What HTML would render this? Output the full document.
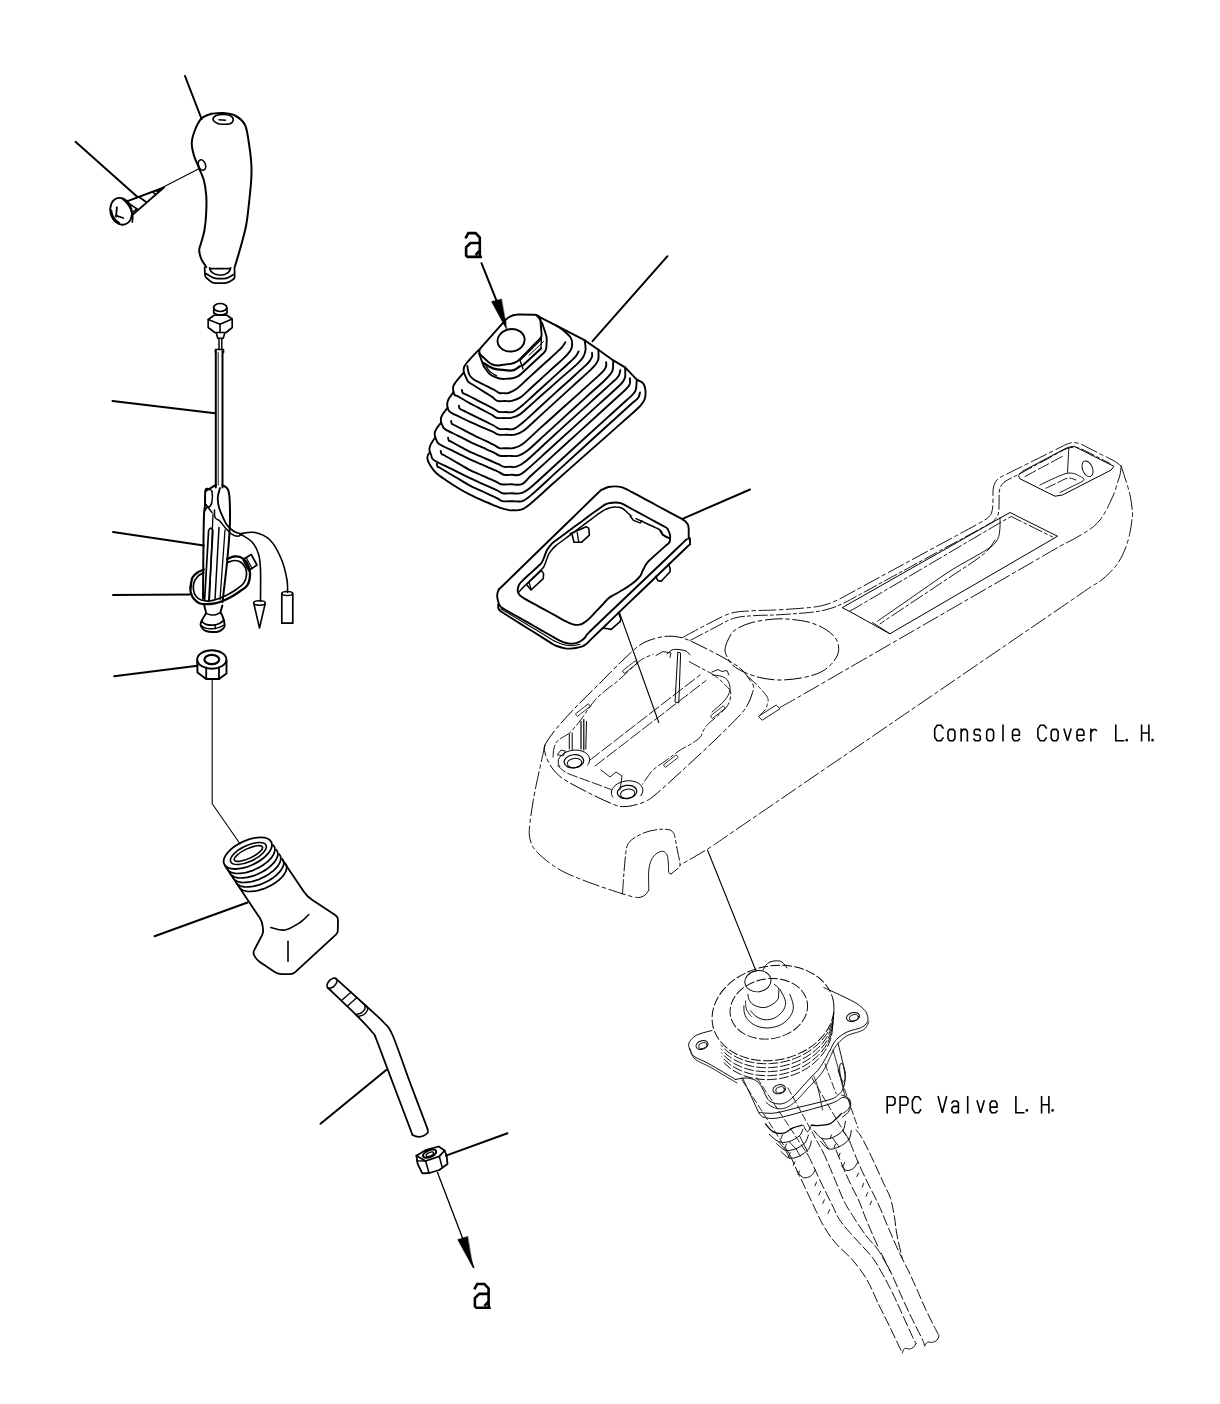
<!DOCTYPE html>
<html><head><meta charset="utf-8"><title>Console Cover L.H. / PPC Valve L.H.</title>
<style>
html,body{margin:0;padding:0;background:#fff;}
body{width:1220px;height:1404px;overflow:hidden;font-family:"Liberation Sans",sans-serif;}
svg{display:block;}
</style></head><body>
<svg width="1220" height="1404" viewBox="0 0 1220 1404">
<rect width="1220" height="1404" fill="#fff"/>
<g stroke="#000" fill="none" stroke-linecap="round" stroke-linejoin="round">
<path d="M185.0,76.0 L201.6,119.0" stroke-width="2.0" fill="none" />
<path d="M75.5,141.8 L137.5,197.0" stroke-width="2.0" fill="none" />
<path d="M112.5,401.0 L215.0,413.3" stroke-width="2.0" fill="none" />
<path d="M113.0,532.0 L203.8,545.5" stroke-width="2.0" fill="none" />
<path d="M113.0,595.0 L190.0,594.5" stroke-width="2.0" fill="none" />
<path d="M114.2,676.2 L197.5,665.8" stroke-width="2.0" fill="none" />
<path d="M154.5,936.2 L247.5,902.5" stroke-width="2.0" fill="none" />
<path d="M320.5,1123.8 L386.2,1070.0" stroke-width="2.0" fill="none" />
<path d="M446.0,1155.6 L507.5,1133.2" stroke-width="2.0" fill="none" />
<path d="M667.5,256.2 L592.5,341.2" stroke-width="2.0" fill="none" />
<path d="M682.5,518.8 L750.0,489.5" stroke-width="2.0" fill="none" />
<path d="M211.2,113.8 C209.6,114.6 204.0,116.0 201.2,118.8 C198.5,121.5 196.6,126.0 195.0,130.0 C193.4,134.0 192.0,138.3 191.8,142.5 C191.5,146.7 192.6,150.8 193.8,155.0 C194.9,159.2 197.1,163.3 198.8,167.5 C200.4,171.7 202.5,175.4 203.8,180.0 C205.0,184.6 205.8,189.6 206.2,195.0 C206.7,200.4 206.5,206.7 206.2,212.5 C206.0,218.3 205.3,225.0 204.5,230.0 C203.7,235.0 202.1,239.2 201.2,242.5 C200.4,245.8 199.2,247.3 199.2,250.0 C199.2,252.7 200.1,255.9 201.2,258.8 C202.4,261.6 205.4,265.6 206.2,267.0" stroke-width="2.0" fill="none" />
<path d="M211.2,113.8 C213.1,113.6 218.5,112.7 222.5,113.0 C226.5,113.3 231.2,113.5 235.0,115.5 C238.8,117.5 242.7,120.5 245.0,125.0 C247.3,129.5 247.7,136.2 248.8,142.5 C249.8,148.8 250.8,156.2 251.2,162.5 C251.7,168.8 251.7,172.9 251.2,180.0 C250.8,187.1 249.6,197.5 248.8,205.0 C247.9,212.5 247.5,218.3 246.2,225.0 C245.0,231.7 243.1,238.1 241.2,245.0 C239.4,251.9 236.0,262.7 235.0,266.2" stroke-width="2.0" fill="none" />
<path d="M213.0,119.2 C212.9,118.0 214.5,116.3 216.2,115.5 C218.0,114.7 221.4,114.5 223.8,114.5 C226.1,114.5 228.9,114.8 230.5,115.8 C232.1,116.7 233.3,118.7 233.2,120.0 C233.2,121.3 231.8,123.0 230.0,123.8 C228.2,124.5 224.7,124.3 222.5,124.2 C220.3,124.2 218.6,124.1 217.0,123.2 C215.4,122.4 213.1,120.5 213.0,119.2 Z" stroke-width="1.6" fill="none" />
<path d="M219.0,119.8 L225.5,120.2" stroke-width="1.4" fill="none" />
<ellipse cx="202.0" cy="165.0" rx="3.4" ry="5.4" stroke-width="1.6" fill="none" transform="rotate(-20 202.0 165.0)"/>
<path d="M204.6,267.4 L205.0,274.7 Q205.1,276.7 206.6,278.0 L210.2,281.2 Q212.4,283.2 215.4,283.2 L224.4,283.2 Q227.4,283.2 229.9,281.6 L233.0,279.6 Q234.7,278.5 234.7,276.5 L234.5,267.4" stroke-width="1.8" fill="none" />
<path d="M205.8,273.6 L211.6,277.1 Q214.2,278.7 217.2,278.7 L223.3,278.7 Q226.3,278.7 228.9,277.2 L233.6,274.6" stroke-width="1.7" fill="none" />
<path d="M209.6,267.8 L210.0,269.6 Q210.5,271.3 212.0,272.3 L213.5,273.4 Q216.0,275.0 219.0,275.0 L222.0,275.0 Q224.9,275.0 227.1,273.2 L228.1,272.5 Q229.5,271.3 230.1,269.6 L230.7,267.8" stroke-width="1.7" fill="none" />
<path d="M210.1,268.6 L230.2,268.6" stroke-width="1.6" fill="none" />
<path d="M198.8,168.8 L162.5,187.5" stroke-width="1.1" fill="none" />
<ellipse cx="121.1" cy="211.3" rx="10.6" ry="13.6" stroke-width="1.8" fill="none" transform="rotate(-16 121.1 211.3)"/>
<path d="M122.6,199.0 C123.3,199.6 125.4,201.3 126.6,202.6 C127.7,203.9 128.7,205.4 129.5,206.9 C130.3,208.4 131.0,209.9 131.5,211.5 C132.0,213.1 132.5,214.6 132.7,216.4 C132.8,218.1 132.3,221.0 132.3,222.0" stroke-width="1.7" fill="none" />
<path d="M111.0,210.8 C111.2,211.6 111.5,213.9 112.1,215.4 C112.8,216.9 113.9,218.7 115.1,220.0 C116.2,221.3 118.4,222.7 119.0,223.3" stroke-width="2.6" fill="none" />
<path d="M126.2,201.6 L163.9,187.5 L132.8,214.6" stroke-width="1.9" fill="none" />
<path d="M155.7,190.6 L163.9,187.5 L159.0,191.8 Z" stroke-width="1.0" fill="#000" />
<path d="M138.7,196.7 L146.2,202.0" stroke-width="1.7" fill="none" />
<path d="M128.3,203.1 L137.0,208.9" stroke-width="1.7" fill="none" />
<path d="M137.0,208.9 L132.8,212.1" stroke-width="1.5" fill="none" />
<path d="M152.8,192.1 L155.4,194.1" stroke-width="1.5" fill="none" />
<path d="M116.9,207.2 L116.1,216.7" stroke-width="1.8" fill="none" />
<path d="M116.1,215.7 L123.3,218.0" stroke-width="1.8" fill="none" />
<ellipse cx="220.2" cy="307.5" rx="6.6" ry="4.0" stroke-width="1.7" fill="none"/>
<path d="M213.8,308.0 L213.8,313.0 Q220.2,317.0 227.0,313.0 L227.0,308.0" stroke-width="1.7" fill="none" />
<path d="M208.2,319.5 L214.2,315.2 L227.0,315.2 L232.2,319.0 L232.2,327.5 L226.2,332.5 L214.8,332.5 L208.2,327.5 Z" stroke-width="1.7" fill="none" />
<path d="M208.2,319.5 L220.0,324.2 L232.2,319.0" stroke-width="1.6" fill="none" />
<path d="M220.0,324.0 L220.0,332.5" stroke-width="1.6" fill="none" />
<path d="M216.2,333.0 L217.8,338.2 L223.2,338.2 L224.8,333.0" stroke-width="1.6" fill="none" />
<path d="M219.0,338.8 L219.0,348.8" stroke-width="1.5" fill="none" />
<path d="M221.8,338.8 L221.8,348.8" stroke-width="1.5" fill="none" />
<path d="M215.5,352.5 L215.5,349.5 L223.5,349.5 L223.5,352.5" stroke-width="1.6" fill="none" />
<path d="M215.8,351.2 L215.8,487.5" stroke-width="2.0" fill="none" />
<path d="M222.5,351.2 L222.5,487.5" stroke-width="2.0" fill="none" />
<path d="M218.2,352.5 L218.2,485.0" stroke-width="0.9" fill="none" />
<path d="M215.8,485.0 C214.7,485.6 211.2,487.9 209.5,488.8 C207.8,489.6 206.2,487.3 205.5,490.0 C204.8,492.7 205.2,500.8 205.0,505.0 C204.8,509.2 204.2,509.2 204.0,515.0 C203.8,520.8 203.7,526.0 203.5,540.0 C203.3,554.0 203.1,589.0 203.0,598.8" stroke-width="2.0" fill="none" />
<path d="M222.5,485.0 C223.3,485.6 226.3,486.7 227.5,488.8 C228.7,490.8 229.1,492.3 229.5,497.5 C229.9,502.7 230.1,512.5 230.0,520.0 C229.9,527.5 229.3,535.0 228.8,542.5 C228.2,550.0 227.8,555.1 226.8,565.0 C225.7,574.9 223.2,595.8 222.5,602.0" stroke-width="2.0" fill="none" />
<path d="M205.8,491.2 C206.3,491.0 208.0,489.5 209.0,489.5 C210.0,489.5 211.5,489.3 212.0,491.5 C212.5,493.7 212.3,499.9 211.8,502.5 C211.2,505.1 209.7,506.7 208.8,507.0 C207.8,507.3 206.5,504.9 206.0,504.5" stroke-width="1.5" fill="none" />
<path d="M204.5,511.2 L207.5,506.5 L212.0,512.5" stroke-width="1.5" fill="none" />
<path d="M220.0,488.0 C219.6,489.6 217.9,494.2 217.8,497.5 C217.6,500.8 218.2,504.4 219.0,507.5 C219.8,510.6 221.2,513.3 222.5,516.2 C223.8,519.2 225.1,522.5 227.0,525.0 C228.9,527.5 231.6,529.8 233.8,531.2 C235.9,532.7 239.0,533.3 240.0,533.8" stroke-width="1.8" fill="none" />
<path d="M214.5,510.0 C214.6,511.2 214.1,515.6 215.0,517.5 C215.9,519.4 218.3,519.6 220.0,521.2 C221.7,522.9 223.1,525.4 225.0,527.5 C226.9,529.6 229.1,532.3 231.2,533.8 C233.4,535.2 236.1,536.2 238.0,536.2 C239.9,536.2 241.8,534.2 242.5,533.8" stroke-width="1.5" fill="none" />
<path d="M204.6,600.1 L208.6,530.5 Q210.8,525.9 212.9,530.5 L208.8,601.0" stroke-width="1.7" fill="none" />
<path d="M219.0,527.5 L215.0,599.5" stroke-width="1.5" fill="none" />
<path d="M213.0,513.8 L209.5,599.5" stroke-width="1.3" fill="none" />
<path d="M225.0,530.0 L220.0,599.5" stroke-width="1.3" fill="none" />
<path d="M190.5,587.5 C190.8,585.8 191.3,580.0 192.5,577.5 C193.7,575.0 195.6,573.8 197.5,572.5 C199.4,571.2 202.7,570.0 203.8,569.5" stroke-width="2.3" fill="none" />
<path d="M227.0,559.0 C228.1,558.6 231.6,556.8 233.8,556.5 C235.9,556.2 237.9,556.2 240.0,557.0 C242.1,557.8 244.6,558.9 246.2,561.5 C247.9,564.1 249.8,568.6 250.0,572.5 C250.2,576.4 249.2,581.9 247.5,585.0 C245.8,588.1 242.9,589.2 240.0,591.2 C237.1,593.3 233.3,595.7 230.0,597.5 C226.7,599.3 223.3,600.9 220.0,602.0 C216.7,603.1 213.3,603.8 210.0,604.0 C206.7,604.2 202.7,604.4 200.0,603.5 C197.3,602.6 195.3,600.6 193.8,598.8 C192.2,596.9 191.3,594.4 190.8,592.5 C190.2,590.6 190.5,588.3 190.5,587.5" stroke-width="2.3" fill="none" />
<path d="M227.5,562.5 C228.8,562.2 232.7,560.5 235.0,560.5 C237.3,560.5 239.5,561.2 241.2,562.5 C243.0,563.8 244.6,565.9 245.5,568.0 C246.4,570.1 246.8,572.5 246.5,575.0 C246.2,577.5 245.5,580.6 243.8,583.0 C242.0,585.4 239.0,587.5 236.2,589.5 C233.5,591.5 230.1,593.4 227.0,595.0 C223.9,596.6 220.4,598.0 217.5,599.0 C214.6,600.0 212.2,600.8 209.5,601.0 C206.8,601.2 203.5,600.8 201.2,600.0 C199.0,599.2 197.3,597.9 196.0,596.2 C194.7,594.6 193.8,592.3 193.5,590.0 C193.2,587.7 193.2,584.8 194.0,582.5 C194.8,580.2 196.4,577.9 198.0,576.2 C199.6,574.6 202.8,573.1 203.8,572.5" stroke-width="1.7" fill="none" />
<path d="M243.0,559.5 L251.2,554.5 L257.0,565.0 L248.8,570.5 Z" stroke-width="1.7" fill="none" />
<path d="M246.2,557.5 L252.0,568.2" stroke-width="1.2" fill="none" />
<path d="M240.0,533.8 C242.1,535.2 249.4,539.0 252.5,542.5 C255.6,546.0 257.4,550.4 258.8,555.0 C260.1,559.6 260.2,562.3 260.5,570.0 C260.8,577.7 260.5,596.0 260.5,601.2" stroke-width="1.6" fill="none" />
<path d="M240.0,533.8 C242.5,533.5 250.0,531.5 255.0,532.5 C260.0,533.5 265.6,535.6 270.0,540.0 C274.4,544.4 278.4,552.1 281.2,558.8 C284.1,565.4 286.0,574.4 287.0,580.0 C288.0,585.6 287.4,590.4 287.5,592.5" stroke-width="1.6" fill="none" />
<ellipse cx="259.5" cy="603.0" rx="5.8" ry="2.2" stroke-width="1.5" fill="none"/>
<path d="M253.8,603.5 L259.5,628.0 L265.2,603.5" stroke-width="1.6" fill="none" />
<ellipse cx="287.2" cy="593.5" rx="5.4" ry="2.0" stroke-width="1.5" fill="none"/>
<path d="M281.8,593.5 L281.8,623.2 L292.8,623.2 L292.8,593.5" stroke-width="1.7" fill="none" />
<path d="M204.2,605.4 C204.4,606.0 204.9,607.9 205.2,609.2 C205.5,610.5 206.2,611.8 205.9,613.1 C205.7,614.4 204.5,615.8 203.7,617.1 C203.0,618.4 202.1,619.7 201.5,621.1 C201.0,622.4 200.4,623.9 200.6,625.2 C200.8,626.5 201.9,627.9 202.8,628.8 C203.7,629.8 204.4,630.5 206.0,631.0 C207.6,631.5 210.3,631.9 212.4,632.0 C214.6,632.1 217.1,631.9 218.7,631.5 C220.4,631.1 221.4,630.2 222.4,629.3 C223.3,628.5 224.3,627.7 224.6,626.4 C224.8,625.1 224.4,623.1 224.1,621.3 C223.7,619.6 222.9,617.4 222.4,615.9 C221.8,614.4 220.8,613.4 220.7,612.3 C220.5,611.1 221.1,610.1 221.4,609.0 C221.7,607.8 222.2,606.0 222.4,605.4" stroke-width="1.9" fill="none" />
<path d="M201.5,621.3 C202.3,621.8 204.2,623.7 206.0,624.4 C207.9,625.0 210.5,625.3 212.7,625.2 C214.9,625.1 217.5,624.4 219.3,623.5 C221.2,622.7 223.1,620.7 223.8,620.1" stroke-width="1.7" fill="none" />
<path d="M200.8,625.6 C201.6,626.0 203.5,627.6 205.4,628.1 C207.4,628.7 210.1,629.0 212.4,628.8 C214.8,628.7 217.4,628.0 219.3,627.4 C221.3,626.7 223.5,625.4 224.3,625.0" stroke-width="1.5" fill="none" />
<path d="M205.9,613.1 C206.6,613.4 208.6,614.5 210.3,614.8 C211.9,615.1 214.0,615.1 215.7,614.7 C217.4,614.3 219.9,612.8 220.7,612.4" stroke-width="1.5" fill="none" />
<path d="M215.1,625.2 L215.4,628.8" stroke-width="1.4" fill="none" />
<ellipse cx="211.8" cy="659.5" rx="14.6" ry="9.2" stroke-width="1.9" fill="none"/>
<ellipse cx="211.8" cy="659.5" rx="7.4" ry="4.6" stroke-width="2.2" fill="none"/>
<path d="M197.2,660.5 L197.5,672.5 L206.2,679.0 L219.0,679.0 L226.5,673.5 L226.5,660.5" stroke-width="1.9" fill="none" />
<path d="M206.2,667.5 L206.2,679.0" stroke-width="1.8" fill="none" />
<path d="M219.0,667.5 L219.0,679.0" stroke-width="1.8" fill="none" />
<path d="M212.2,679.5 L212.2,803.8 L240.0,843.8" stroke-width="1.1" fill="none" />
<ellipse cx="247.8" cy="853.2" rx="26.0" ry="12.5" stroke-width="1.8" fill="none" transform="rotate(-25 247.8 853.2)"/>
<ellipse cx="248.4" cy="853.5" rx="19.5" ry="8.0" stroke-width="1.6" fill="none" transform="rotate(-25 248.4 853.5)"/>
<ellipse cx="248.4" cy="853.5" rx="15.5" ry="4.8" stroke-width="1.6" fill="none" transform="rotate(-25 248.4 853.5)"/>
<path d="M273.3,845.2 C273.5,845.5 274.2,846.4 274.5,847.1 C274.7,847.7 274.9,848.4 274.9,849.2 C274.9,849.9 274.8,850.7 274.6,851.5 C274.4,852.3 274.1,853.2 273.7,854.1 C273.3,854.9 272.7,855.8 272.1,856.7 C271.5,857.6 270.7,858.5 269.9,859.4 C269.1,860.3 268.1,861.1 267.1,862.0 C266.1,862.8 265.1,863.7 263.9,864.5 C262.8,865.3 261.6,866.1 260.3,866.8 C259.1,867.5 257.8,868.2 256.4,868.8 C255.1,869.5 253.8,870.0 252.4,870.6 C251.1,871.1 249.7,871.5 248.3,871.9 C247.0,872.3 245.6,872.6 244.3,872.9 C243.0,873.1 241.7,873.3 240.5,873.4 C239.3,873.5 238.1,873.5 236.9,873.5 C235.8,873.4 234.8,873.3 233.8,873.1 C232.8,872.9 231.9,872.6 231.1,872.3 C230.4,871.9 229.6,871.5 229.1,871.0 C228.5,870.5 228.0,870.0 227.6,869.4 C227.2,868.8 226.9,867.8 226.8,867.4" stroke-width="1.7" fill="none" />
<path d="M276.3,849.7 C276.5,850.0 277.2,850.9 277.4,851.6 C277.7,852.2 277.8,852.9 277.8,853.7 C277.9,854.4 277.8,855.2 277.6,856.0 C277.4,856.8 277.1,857.7 276.6,858.6 C276.2,859.4 275.7,860.3 275.0,861.2 C274.4,862.1 273.7,863.0 272.8,863.9 C272.0,864.8 271.1,865.6 270.1,866.5 C269.1,867.3 268.0,868.2 266.9,869.0 C265.7,869.8 264.5,870.6 263.3,871.3 C262.0,872.0 260.7,872.7 259.4,873.3 C258.1,874.0 256.7,874.5 255.4,875.1 C254.0,875.6 252.6,876.0 251.3,876.4 C249.9,876.8 248.6,877.1 247.3,877.4 C246.0,877.6 244.7,877.8 243.4,877.9 C242.2,878.0 241.0,878.0 239.9,878.0 C238.8,877.9 237.7,877.8 236.8,877.6 C235.8,877.4 234.9,877.1 234.1,876.8 C233.3,876.4 232.6,876.0 232.0,875.5 C231.4,875.0 230.9,874.5 230.5,873.9 C230.1,873.3 229.8,872.3 229.7,871.9" stroke-width="1.7" fill="none" />
<path d="M279.2,854.2 C279.4,854.5 280.1,855.4 280.4,856.1 C280.6,856.7 280.8,857.4 280.8,858.2 C280.8,858.9 280.7,859.7 280.5,860.5 C280.3,861.3 280.0,862.2 279.6,863.1 C279.2,863.9 278.6,864.8 278.0,865.7 C277.4,866.6 276.6,867.5 275.8,868.4 C275.0,869.3 274.0,870.1 273.0,871.0 C272.0,871.8 271.0,872.7 269.8,873.5 C268.7,874.3 267.5,875.1 266.2,875.8 C265.0,876.5 263.7,877.2 262.3,877.8 C261.0,878.5 259.7,879.0 258.3,879.6 C257.0,880.1 255.6,880.5 254.2,880.9 C252.9,881.3 251.5,881.6 250.2,881.9 C248.9,882.1 247.6,882.3 246.4,882.4 C245.2,882.5 244.0,882.5 242.8,882.5 C241.7,882.4 240.7,882.3 239.7,882.1 C238.7,881.9 237.8,881.6 237.0,881.3 C236.3,880.9 235.5,880.5 235.0,880.0 C234.4,879.5 233.9,879.0 233.5,878.4 C233.1,877.8 232.8,876.8 232.7,876.4" stroke-width="1.7" fill="none" />
<path d="M282.2,858.7 C282.4,859.0 283.1,859.9 283.3,860.6 C283.6,861.2 283.7,861.9 283.7,862.7 C283.8,863.4 283.7,864.2 283.5,865.0 C283.3,865.8 283.0,866.7 282.5,867.6 C282.1,868.4 281.6,869.3 280.9,870.2 C280.3,871.1 279.6,872.0 278.7,872.9 C277.9,873.8 277.0,874.6 276.0,875.5 C275.0,876.3 273.9,877.2 272.8,878.0 C271.6,878.8 270.4,879.6 269.2,880.3 C267.9,881.0 266.6,881.7 265.3,882.3 C264.0,883.0 262.6,883.5 261.3,884.1 C259.9,884.6 258.5,885.0 257.2,885.4 C255.8,885.8 254.5,886.1 253.2,886.4 C251.9,886.6 250.6,886.8 249.3,886.9 C248.1,887.0 246.9,887.0 245.8,887.0 C244.7,886.9 243.6,886.8 242.7,886.6 C241.7,886.4 240.8,886.1 240.0,885.8 C239.2,885.4 238.5,885.0 237.9,884.5 C237.3,884.0 236.8,883.5 236.4,882.9 C236.0,882.3 235.7,881.3 235.6,880.9" stroke-width="1.7" fill="none" />
<path d="M285.1,863.2 C285.3,863.5 286.0,864.4 286.3,865.1 C286.5,865.7 286.7,866.4 286.7,867.2 C286.7,867.9 286.6,868.7 286.4,869.5 C286.2,870.3 285.9,871.2 285.5,872.1 C285.1,872.9 284.5,873.8 283.9,874.7 C283.3,875.6 282.5,876.5 281.7,877.4 C280.9,878.3 279.9,879.1 278.9,880.0 C277.9,880.8 276.9,881.7 275.7,882.5 C274.6,883.3 273.4,884.1 272.1,884.8 C270.9,885.5 269.6,886.2 268.2,886.8 C266.9,887.5 265.6,888.0 264.2,888.6 C262.9,889.1 261.5,889.5 260.1,889.9 C258.8,890.3 257.4,890.6 256.1,890.9 C254.8,891.1 253.5,891.3 252.3,891.4 C251.1,891.5 249.9,891.5 248.7,891.5 C247.6,891.4 246.6,891.3 245.6,891.1 C244.6,890.9 243.7,890.6 242.9,890.3 C242.2,889.9 241.4,889.5 240.9,889.0 C240.3,888.5 239.8,888.0 239.4,887.4 C239.0,886.8 238.7,885.8 238.6,885.4" stroke-width="1.7" fill="none" />
<path d="M224.8,865.5 L259.7,917.8 Q262.5,922.0 262.8,927.0 L263.1,930.5 Q263.2,933.0 262.1,935.2 L254.1,950.3 Q252.8,953.0 254.3,955.6 L255.4,957.4 Q257.0,960.0 259.5,961.7 L274.7,972.0 Q278.0,974.2 282.0,974.2 L290.0,974.2 Q293.0,974.2 295.2,972.2 L335.9,934.7 Q337.8,933.0 337.8,930.5 L338.0,920.0 Q338.0,917.0 335.5,915.3 L312.0,899.8 Q307.0,896.5 303.7,891.5 L282.5,860.0" stroke-width="1.8" fill="none" />
<path d="M270.8,927.5 C273.1,927.9 280.1,930.8 285.0,930.0 C289.9,929.2 296.0,925.1 300.0,922.5 C304.0,919.9 307.3,915.8 308.8,914.5" stroke-width="1.6" fill="none" />
<path d="M288.0,941.2 L288.0,961.2" stroke-width="1.6" fill="none" />
<path d="M336.2,978.8 C341.0,983.1 357.1,997.7 365.0,1005.0 C372.9,1012.3 379.2,1017.5 383.8,1022.5 C388.3,1027.5 388.1,1025.0 392.5,1035.0 C396.9,1045.0 404.2,1066.9 410.0,1082.5 C415.8,1098.1 424.6,1121.0 427.5,1128.8" stroke-width="1.8" fill="none" />
<path d="M327.5,987.5 C332.3,992.1 348.8,1007.5 356.2,1015.0 C363.8,1022.5 369.1,1028.2 372.5,1032.5 C375.9,1036.8 373.0,1031.1 376.8,1040.5 C380.5,1049.9 389.0,1073.0 395.0,1088.8 C401.0,1104.5 409.6,1127.3 412.5,1135.0" stroke-width="1.8" fill="none" />
<path d="M412.5,1135.0 Q421.2,1139.5 428.0,1132.5 L427.5,1128.8" stroke-width="1.7" fill="none" />
<ellipse cx="332.0" cy="983.2" rx="6.2" ry="3.6" stroke-width="1.6" fill="none" transform="rotate(-45 332.0 983.2)"/>
<path d="M342.0,1000.0 L351.2,992.0" stroke-width="1.3" fill="none" />
<path d="M348.0,1005.5 L357.0,997.5" stroke-width="1.3" fill="none" />
<path d="M355.5,1014.5 C356.5,1014.2 359.7,1014.0 361.2,1013.0 C362.8,1012.0 364.5,1010.2 365.0,1008.8 C365.5,1007.3 364.6,1005.2 364.5,1004.5" stroke-width="1.5" fill="none" />
<path d="M358.0,1016.5 C359.0,1016.2 362.4,1015.6 364.0,1014.5 C365.6,1013.4 367.0,1011.3 367.5,1010.0 C368.0,1008.7 367.1,1007.1 367.0,1006.5" stroke-width="1.3" fill="none" />
<path d="M416.4,1155.7 L426.2,1149.8 L438.7,1146.5 L444.6,1150.5 L439.3,1156.4 L425.6,1161.0 Z" stroke-width="1.8" fill="none" />
<ellipse cx="429.6" cy="1153.7" rx="7.0" ry="3.4" stroke-width="2.0" fill="none" transform="rotate(-22 429.6 1153.7)"/>
<ellipse cx="429.9" cy="1154.3" rx="4.0" ry="1.7" stroke-width="1.3" fill="none" transform="rotate(-22 429.9 1154.3)"/>
<path d="M416.4,1155.7 L417.7,1164.2 L422.3,1173.3 L429.5,1173.0 L439.3,1170.0 L447.5,1164.1 L446.6,1155.7 L444.6,1150.5" stroke-width="1.8" fill="none" />
<path d="M425.6,1161.0 L428.9,1172.5" stroke-width="1.5" fill="none" />
<path d="M439.3,1156.4 L442.0,1166.7" stroke-width="1.5" fill="none" />
<path d="M416.7,1160.8 L425.2,1161.0" stroke-width="1.3" fill="none" />
<path d="M437.5,1172.5 L473.8,1267.5" stroke-width="1.3" fill="none" />
<path d="M472.9,1267.6 L457.6,1239.6 L467.6,1236.4 Z" stroke-width="0.4" fill="#000" />
<path d="M481.5,263.2 L505.4,322.8" stroke-width="2.0" fill="none" />
<path d="M507.1,330.4 L491.4,301.6 L501.4,299.0 Z" stroke-width="0.4" fill="#000" />
<path d="M467.4,366.0 C467.5,366.6 467.6,368.1 467.9,369.5 C468.2,370.9 468.6,373.1 469.2,374.5 C469.8,375.9 470.7,376.7 471.6,377.6 C472.5,378.5 472.9,379.0 474.5,380.0 C476.1,381.0 478.9,382.2 481.1,383.3 C483.3,384.4 485.6,385.6 487.8,386.7 C490.0,387.8 492.5,388.9 494.4,390.0 C496.3,391.1 497.8,392.5 499.4,393.0 C501.0,393.5 502.4,393.1 503.9,393.1 C505.4,393.1 506.1,393.8 508.4,393.0 C510.6,392.2 514.3,390.5 517.4,388.2 C520.5,385.9 524.0,382.2 527.2,379.2 C530.5,376.2 533.8,373.3 537.0,370.3 C540.3,367.3 543.6,364.3 546.9,361.3 C550.1,358.4 554.2,354.8 556.7,352.4 C559.2,350.0 560.7,348.8 562.1,347.1 C563.5,345.4 564.8,343.1 565.3,342.3" stroke-width="1.9" fill="none" />
<path d="M479.3,349.4 C478.4,350.3 475.5,353.2 473.7,355.1 C471.9,357.0 470.1,358.9 468.5,360.8 C466.9,362.7 465.1,364.7 464.3,366.5 C463.5,368.3 463.6,370.0 463.7,371.5 C463.8,373.0 464.4,373.6 465.1,375.3 C465.8,377.0 467.4,380.5 468.1,381.7 C468.8,382.8 468.7,382.1 469.0,382.3 C469.4,382.6 468.6,382.1 470.0,383.0 C471.4,383.9 475.0,386.1 477.5,387.7 C480.0,389.3 482.4,390.9 484.9,392.4 C487.4,394.0 490.3,395.7 492.4,397.1 C494.5,398.6 495.4,400.2 497.4,400.9 C499.4,401.6 502.2,401.0 504.6,401.0 C507.1,401.0 509.2,401.6 511.9,400.9 C514.6,400.2 517.5,399.4 520.9,397.1 C524.2,394.8 528.3,390.4 532.0,387.0 C535.7,383.6 539.4,380.3 543.1,376.9 C546.8,373.5 550.5,370.2 554.2,366.8 C557.9,363.4 562.6,359.5 565.3,356.7 C568.0,353.9 569.5,352.4 570.6,350.3 C571.8,348.2 572.2,346.0 572.2,343.9 C572.2,341.8 572.1,339.7 570.6,337.5 C569.1,335.3 565.9,332.5 563.5,330.5 C561.1,328.5 557.6,326.4 556.4,325.6" stroke-width="1.9" fill="none" />
<path d="M461.9,390.0 C462.0,390.5 462.2,392.2 462.7,392.9 C463.2,393.6 464.1,393.6 464.9,394.0 C465.7,394.4 466.6,394.8 467.4,395.2 C468.3,395.7 468.2,395.6 470.0,396.5 C471.8,397.4 475.3,399.2 478.0,400.6 C480.6,402.0 483.3,403.4 485.9,404.7 C488.6,406.1 491.7,407.6 493.9,408.8 C496.1,410.0 496.9,411.4 498.9,411.9 C500.9,412.4 503.6,412.0 505.9,412.0 C508.2,412.0 510.2,412.9 512.9,411.9 C515.6,410.9 518.4,408.7 521.9,405.8 C525.4,403.0 530.0,398.4 534.1,394.7 C538.1,391.0 542.2,387.4 546.2,383.7 C550.3,380.0 554.4,376.3 558.4,372.6 C562.5,368.9 567.7,364.2 570.6,361.5 C573.5,358.8 574.6,357.9 575.9,356.2 C577.2,354.5 578.1,352.2 578.6,351.4" stroke-width="1.9" fill="none" />
<path d="M463.9,372.5 C463.2,373.3 461.1,375.6 459.8,377.1 C458.5,378.6 457.1,380.2 456.0,381.7 C455.0,383.2 453.8,384.7 453.3,386.3 C452.8,387.9 453.1,389.7 453.3,391.1 C453.5,392.5 454.0,394.0 454.7,394.9 C455.4,395.8 456.2,395.4 457.7,396.2 C459.2,397.1 461.8,398.6 463.9,399.8 C465.9,401.0 467.8,402.2 470.0,403.4 C472.2,404.6 474.9,405.9 477.3,407.2 C479.7,408.5 482.2,409.7 484.6,411.0 C487.0,412.3 489.8,413.7 491.9,414.8 C493.9,416.0 494.9,417.4 496.9,417.9 C498.9,418.4 501.6,418.0 503.9,418.0 C506.2,418.0 508.2,418.5 510.9,417.9 C513.6,417.3 516.0,417.1 519.9,414.4 C523.8,411.7 529.6,405.8 534.5,401.6 C539.3,397.3 544.1,393.0 549.0,388.8 C553.9,384.5 558.7,380.2 563.5,375.9 C568.4,371.7 574.8,366.3 578.1,363.1 C581.4,359.9 582.1,359.0 583.4,356.7 C584.6,354.4 585.4,352.0 585.6,349.2 C585.8,346.4 584.7,341.6 584.5,340.1" stroke-width="1.9" fill="none" />
<path d="M458.9,405.8 C459.0,406.3 459.2,408.0 459.7,408.7 C460.2,409.4 460.9,409.3 461.9,409.8 C462.9,410.3 464.6,411.2 465.9,411.8 C467.3,412.5 468.0,412.9 470.0,413.9 C472.0,414.9 475.4,416.6 478.1,417.9 C480.8,419.3 483.6,420.6 486.3,421.9 C489.0,423.3 492.2,424.8 494.4,426.0 C496.6,427.1 497.4,428.4 499.4,428.9 C501.4,429.4 504.2,429.0 506.6,429.0 C509.1,429.0 511.2,430.0 513.9,428.9 C516.6,427.8 518.9,425.8 522.9,422.5 C526.9,419.1 533.0,413.3 538.0,408.7 C543.1,404.1 548.1,399.5 553.1,394.9 C558.2,390.3 563.2,385.8 568.3,381.2 C573.3,376.6 580.0,370.6 583.4,367.4 C586.8,364.2 587.4,363.9 588.8,362.1 C590.2,360.3 591.5,358.2 592.0,356.7 C592.5,355.2 592.0,353.6 592.0,353.0" stroke-width="1.9" fill="none" />
<path d="M453.5,392.1 C453.1,392.7 451.7,394.4 450.9,395.6 C450.1,396.7 449.2,397.9 448.6,399.0 C448.1,400.2 447.6,401.2 447.4,402.5 C447.2,403.8 447.2,405.5 447.4,406.9 C447.6,408.3 448.1,409.7 448.8,410.7 C449.5,411.7 449.8,412.0 451.8,413.1 C453.8,414.2 457.9,416.0 460.9,417.5 C463.9,419.0 467.2,420.6 470.0,421.9 C472.8,423.2 475.2,424.2 477.8,425.3 C480.4,426.4 483.0,427.5 485.6,428.7 C488.2,429.8 491.3,431.0 493.4,432.0 C495.5,433.0 496.2,434.1 498.4,434.6 C500.6,435.1 503.9,434.8 506.6,434.8 C509.4,434.8 512.0,435.3 514.9,434.6 C517.8,433.9 519.7,433.7 523.9,430.6 C528.1,427.4 534.9,420.6 540.4,415.6 C545.9,410.6 551.4,405.6 556.8,400.6 C562.3,395.6 567.8,390.6 573.3,385.6 C578.8,380.6 586.1,374.2 589.8,370.6 C593.5,367.0 594.3,366.2 595.7,364.2 C597.1,362.2 598.0,361.2 598.4,358.8 C598.8,356.4 598.4,351.3 598.4,349.8" stroke-width="1.9" fill="none" />
<path d="M451.1,421.0 C451.2,421.5 451.4,423.2 451.9,423.9 C452.4,424.6 452.4,424.1 454.1,425.0 C455.8,425.9 459.4,427.8 462.1,429.1 C464.7,430.5 467.3,431.9 470.0,433.3 C472.7,434.7 475.4,435.9 478.1,437.3 C480.8,438.6 483.6,439.9 486.3,441.2 C489.0,442.6 492.2,444.1 494.4,445.2 C496.6,446.3 497.4,447.6 499.4,448.1 C501.4,448.6 503.9,448.2 506.1,448.2 C508.4,448.2 510.3,448.7 512.9,448.1 C515.5,447.5 517.2,448.0 521.9,444.6 C526.6,441.2 534.6,433.2 541.0,427.4 C547.4,421.7 553.8,416.0 560.1,410.2 C566.5,404.5 572.9,398.8 579.3,393.1 C585.6,387.3 594.3,379.6 598.4,375.9 C602.5,372.2 602.4,372.2 603.7,370.6 C605.0,369.0 605.7,367.7 606.1,366.3 C606.5,364.9 606.1,362.8 606.1,362.1" stroke-width="1.9" fill="none" />
<path d="M447.6,407.9 C447.1,408.5 445.7,410.1 444.8,411.3 C443.9,412.4 443.0,413.5 442.4,414.6 C441.8,415.8 441.2,416.8 441.0,418.0 C440.8,419.2 440.8,420.4 441.0,421.6 C441.2,422.8 441.7,424.1 442.4,425.4 C443.1,426.7 442.8,427.7 445.4,429.4 C447.9,431.1 453.6,433.5 457.7,435.6 C461.8,437.7 466.6,440.1 470.0,441.8 C473.4,443.5 475.5,444.3 478.3,445.6 C481.1,446.8 483.8,448.1 486.6,449.3 C489.4,450.6 492.7,452.0 494.9,453.1 C497.1,454.2 497.6,455.3 499.9,455.8 C502.2,456.3 505.9,455.9 508.9,455.9 C511.9,455.9 514.9,456.6 517.9,455.8 C520.9,455.0 522.2,454.8 526.9,451.1 C531.6,447.4 539.9,439.3 546.4,433.4 C552.9,427.5 559.4,421.6 565.8,415.6 C572.3,409.7 578.8,403.8 585.3,397.9 C591.8,392.0 600.6,384.2 604.8,380.2 C609.0,376.2 609.4,375.6 610.7,373.8 C612.0,372.0 612.4,371.7 612.8,369.5 C613.2,367.3 613.2,361.9 613.3,360.4" stroke-width="1.9" fill="none" />
<path d="M448.1,437.7 C448.2,438.2 448.4,439.9 448.9,440.6 C449.4,441.3 449.2,440.7 451.1,441.7 C453.0,442.7 457.4,445.1 460.6,446.8 C463.7,448.4 466.8,450.3 470.0,451.8 C473.2,453.3 476.3,454.5 479.5,455.9 C482.6,457.3 485.8,458.7 488.9,460.0 C492.1,461.4 496.0,463.0 498.4,464.1 C500.8,465.2 501.5,466.2 503.4,466.7 C505.3,467.2 507.7,466.8 509.9,466.8 C512.1,466.8 513.8,467.6 516.4,466.7 C519.0,465.8 520.3,465.6 525.4,461.5 C530.5,457.4 539.7,448.5 546.9,442.0 C554.0,435.5 561.1,428.9 568.3,422.4 C575.4,415.9 582.6,409.4 589.8,402.9 C596.9,396.4 606.7,387.5 611.2,383.4 C615.7,379.3 615.2,380.0 616.5,378.6 C617.8,377.2 618.6,376.3 619.2,374.9 C619.8,373.5 620.1,370.9 620.3,370.1" stroke-width="1.9" fill="none" />
<path d="M441.2,422.6 C440.7,423.2 439.3,424.9 438.4,426.0 C437.6,427.1 436.7,428.3 436.1,429.4 C435.4,430.5 434.9,431.6 434.7,432.8 C434.5,434.0 434.8,435.2 435.1,436.4 C435.4,437.6 435.8,438.9 436.5,440.2 C437.2,441.5 436.5,442.4 439.5,444.3 C442.5,446.3 449.7,449.3 454.8,451.8 C459.8,454.3 465.9,457.3 470.0,459.3 C474.1,461.3 476.4,462.1 479.6,463.6 C482.8,465.0 486.1,466.4 489.3,467.8 C492.5,469.2 496.5,470.9 498.9,472.1 C501.3,473.2 501.7,474.2 503.9,474.7 C506.1,475.2 509.2,474.8 511.9,474.8 C514.6,474.8 517.1,475.9 519.9,474.7 C522.7,473.5 523.8,472.4 528.9,467.9 C534.0,463.5 543.5,454.6 550.8,448.0 C558.1,441.3 565.4,434.7 572.7,428.1 C580.0,421.4 587.3,414.8 594.6,408.1 C601.9,401.5 611.9,392.5 616.5,388.2 C621.1,383.9 621.0,384.3 622.4,382.4 C623.8,380.5 624.6,379.5 625.1,377.0 C625.6,374.5 625.1,369.0 625.1,367.4" stroke-width="1.9" fill="none" />
<path d="M440.7,451.0 C440.8,451.5 441.0,453.2 441.5,453.9 C442.0,454.6 441.1,453.6 443.7,455.0 C446.3,456.4 452.5,460.1 456.9,462.6 C461.2,465.1 466.4,468.3 470.0,470.2 C473.6,472.1 475.8,472.7 478.6,474.0 C481.5,475.3 484.4,476.5 487.3,477.8 C490.1,479.1 493.6,480.5 495.9,481.6 C498.2,482.7 498.3,483.7 500.9,484.2 C503.5,484.7 507.9,484.3 511.4,484.3 C514.9,484.3 518.6,485.6 521.9,484.2 C525.1,482.8 525.6,480.7 530.9,475.8 C536.2,471.0 546.1,462.0 553.6,455.1 C561.2,448.2 568.8,441.3 576.4,434.4 C584.0,427.5 591.6,420.6 599.1,413.7 C606.7,406.8 617.1,397.4 621.9,393.0 C626.7,388.6 626.5,388.8 627.8,387.2 C629.1,385.6 629.5,384.9 629.9,383.4 C630.2,381.9 629.9,379.0 629.9,378.1" stroke-width="1.9" fill="none" />
<path d="M435.3,437.4 C434.9,438.0 433.5,439.8 432.8,441.0 C432.0,442.2 431.2,443.5 430.6,444.7 C430.1,445.9 429.7,447.2 429.5,448.3 C429.3,449.4 429.4,450.0 429.7,451.1 C430.0,452.2 430.4,453.4 431.1,454.9 C431.8,456.4 430.6,457.9 434.1,460.2 C437.6,462.6 446.1,466.2 452.0,469.2 C458.0,472.2 465.5,476.0 470.0,478.2 C474.5,480.4 476.1,480.9 479.1,482.3 C482.2,483.7 485.2,485.1 488.3,486.4 C491.3,487.8 495.0,489.4 497.4,490.5 C499.8,491.7 500.0,492.7 502.4,493.2 C504.8,493.7 508.6,493.3 511.6,493.3 C514.7,493.3 517.9,494.1 520.9,493.2 C523.9,492.3 524.4,492.6 529.9,488.1 C535.4,483.6 546.0,473.5 554.0,466.2 C562.0,458.9 570.0,451.6 578.0,444.3 C586.1,437.0 594.1,429.7 602.1,422.4 C610.1,415.1 621.1,405.1 626.2,400.5 C631.3,395.9 631.0,396.4 632.6,394.6 C634.2,392.8 635.1,392.3 635.8,389.8 C636.5,387.3 636.6,381.4 636.8,379.7" stroke-width="1.9" fill="none" />
<path d="M436.8,463.8 C436.9,464.3 437.1,466.0 437.6,466.7 C438.1,467.4 436.9,466.1 439.8,467.8 C442.7,469.5 449.9,473.8 454.9,476.8 C459.9,479.7 466.0,483.5 470.0,485.7 C474.0,487.9 476.1,488.5 479.1,489.9 C482.2,491.3 485.2,492.7 488.3,494.1 C491.3,495.6 495.0,497.2 497.4,498.4 C499.8,499.5 499.9,500.6 502.4,501.1 C504.9,501.6 509.1,501.2 512.4,501.2 C515.7,501.2 519.2,502.2 522.4,501.1 C525.6,500.0 525.8,499.7 531.4,494.9 C537.0,490.1 547.9,479.9 556.1,472.4 C564.4,464.9 572.6,457.4 580.9,449.8 C589.1,442.3 597.4,434.8 605.6,427.3 C613.9,419.8 625.2,409.5 630.4,404.8 C635.6,400.1 635.4,400.8 636.8,399.4 C638.2,398.0 638.5,397.3 639.0,396.2 C639.5,395.1 639.8,393.1 640.0,392.5" stroke-width="1.9" fill="none" />
<path d="M429.9,452.1 C429.6,452.6 428.4,453.9 428.0,455.0 C427.6,456.1 427.1,457.0 427.4,458.5 C427.6,460.0 428.1,461.7 429.5,464.0 C430.9,466.3 432.9,469.8 435.7,472.5 C438.4,475.2 442.3,477.7 446.0,480.3 C449.7,482.9 454.0,485.6 458.0,488.0 C462.0,490.4 465.5,492.4 470.0,494.7 C474.5,497.0 480.2,499.5 485.0,501.6 C489.8,503.7 495.0,506.0 499.0,507.4 C503.0,508.8 506.5,509.6 508.9,510.1 C511.3,510.6 511.9,510.2 513.4,510.2 C514.9,510.2 515.6,510.7 517.9,510.1 C520.1,509.5 520.9,511.2 526.9,506.6 C532.9,502.0 544.9,490.7 553.9,482.8 C562.8,474.8 571.8,466.8 580.8,458.9 C589.8,450.9 598.8,443.0 607.8,435.1 C616.7,427.1 629.1,416.2 634.7,411.2 C640.3,406.2 639.4,406.9 641.1,404.8 C642.8,402.7 644.2,400.9 644.9,398.4 C645.6,395.9 645.7,392.3 645.4,389.8 C645.1,387.3 644.5,385.0 643.2,383.4 C642.0,381.8 638.8,380.7 637.9,380.2" stroke-width="1.9" fill="none" />
<path d="M536.7,315.7 L556.4,325.6 L584.5,340.1 L598.4,349.8 L613.3,360.4 L625.1,367.4 L636.8,379.7 L638.5,380.5" stroke-width="1.9" fill="none" />
<path d="M481.3,355.5 Q477.3,351.7 481.0,347.6 L505.2,320.3 Q510.6,314.4 518.6,314.5 L534.4,314.7 Q539.9,314.8 540.4,320.2 L541.6,334.1 Q541.8,336.6 540.1,338.4 L519.7,359.4 Q516.3,363.0 511.3,363.7 L499.9,365.3 Q493.0,366.3 487.8,361.5 Z" stroke-width="1.9" fill="none" />
<ellipse cx="511.1" cy="340.3" rx="13.6" ry="11.2" stroke-width="1.9" fill="none" transform="rotate(-8 511.1 340.3)"/>
<path d="M479.1,353.6 L483.2,364.8 Q483.9,366.7 485.1,368.3 L487.6,371.8 Q489.3,374.3 492.0,375.6 L495.3,377.1 Q499.8,379.3 504.8,378.9 L510.6,378.5 Q516.6,378.1 521.0,374.0 L543.9,352.7 Q546.1,350.7 546.3,347.7 L546.7,341.6 Q547.0,337.6 545.7,333.8 L542.2,323.2" stroke-width="1.9" fill="none" />
<path d="M483.4,363.0 L490.0,367.0 Q493.4,369.0 497.4,369.4 L509.7,370.6 Q513.6,371.0 516.7,368.6 L520.0,366.1" stroke-width="2.3" fill="none" />
<path d="M523.0,365.3 L541.0,348.4" stroke-width="2.1" fill="none" />
<path d="M520.2,360.2 L541.6,339.0" stroke-width="1.3" fill="none" />
<path d="M541.0,348.4 L541.4,337.9" stroke-width="1.3" fill="none" />
<path d="M519.5,359.0 L523.0,368.9" stroke-width="1.4" fill="none" />
<path d="M529.0,355.3 L543.6,341.5" stroke-width="1.0" fill="none" />
<path d="M485.8,365.7 L487.9,369.1 Q489.5,371.6 492.1,373.2 L496.6,375.9" stroke-width="1.3" fill="none" />
<path d="M536.9,315.7 L542.2,323.2" stroke-width="1.4" fill="none" />
<path d="M498.8,589.5 C503.0,585.5 515.4,573.3 523.7,565.2 C532.0,557.2 540.3,549.1 548.6,541.0 C557.0,532.9 565.3,524.8 573.6,516.8 C581.9,508.7 593.7,497.0 598.5,492.5 C603.3,488.0 600.5,490.5 602.2,489.6 C603.9,488.7 606.3,487.5 608.5,487.0 C610.7,486.5 613.4,486.4 615.6,486.4 C617.8,486.4 619.6,486.7 621.5,487.2 C623.4,487.7 625.5,488.8 627.2,489.6 C629.0,490.4 629.3,490.7 632.0,492.2 C634.7,493.7 639.7,496.3 643.5,498.3 C647.3,500.4 651.2,502.4 655.0,504.5 C658.8,506.6 662.7,508.6 666.5,510.6 C670.3,512.7 675.5,515.4 678.0,516.8 C680.5,518.2 680.2,518.0 681.5,518.8 C682.8,519.6 684.4,520.4 685.5,521.5 C686.6,522.6 687.6,523.9 688.1,525.2 C688.6,526.5 688.6,528.4 688.7,529.5 C688.8,530.6 688.7,530.5 688.7,532.0 C688.7,533.5 688.7,537.2 688.7,538.3" stroke-width="1.9" fill="none" />
<path d="M686.2,539.6 C683.0,542.7 673.2,552.0 666.8,558.2 C660.3,564.3 653.8,570.5 647.3,576.7 C640.8,582.9 634.4,589.1 627.9,595.3 C621.4,601.5 614.9,607.7 608.4,613.8 C602.0,620.0 592.8,628.6 589.0,632.4 C585.2,636.2 586.6,635.5 585.5,636.8 C584.4,638.1 583.6,639.0 582.3,640.0 C581.0,641.0 579.2,642.0 577.5,642.6 C575.8,643.2 574.0,643.6 572.1,643.7 C570.2,643.8 568.1,643.6 566.0,643.0 C563.9,642.4 561.2,641.2 559.2,640.3 C557.2,639.4 557.0,639.1 554.0,637.4 C551.0,635.7 545.7,632.7 541.5,630.3 C537.3,627.9 533.2,625.6 529.0,623.2 C524.8,620.8 520.7,618.5 516.5,616.1 C512.3,613.7 506.6,610.6 504.0,609.0 C501.4,607.4 501.5,607.6 500.6,606.6 C499.7,605.6 499.2,604.5 498.6,603.0 C498.1,601.5 497.5,599.0 497.3,597.3 C497.1,595.6 497.2,594.3 497.5,593.0 C497.8,591.7 498.6,590.1 498.8,589.5" stroke-width="1.9" fill="none" />
<path d="M689.9,538.3 C689.9,539.3 690.2,542.8 689.9,544.1 C689.6,545.4 691.5,542.6 688.0,546.0 C684.5,549.4 675.2,558.3 668.8,564.5 C662.4,570.6 656.0,576.8 649.6,583.0 C643.2,589.1 636.8,595.3 630.4,601.4 C624.0,607.6 617.6,613.8 611.2,619.9 C604.8,626.1 596.2,634.4 592.0,638.4 C587.8,642.4 587.8,642.8 586.2,644.1 C584.6,645.4 584.0,645.8 582.5,646.4 C581.0,647.0 578.9,647.4 577.0,647.8 C575.1,648.2 573.0,648.5 571.0,648.6 C569.0,648.7 567.4,648.8 565.0,648.4 C562.6,648.0 558.9,646.8 556.7,646.0 C554.5,645.2 554.8,645.3 552.0,643.6 C549.2,641.9 543.8,638.5 539.8,635.9 C535.7,633.3 531.6,630.8 527.5,628.2 C523.4,625.6 519.3,623.1 515.2,620.5 C511.2,617.9 505.6,614.5 503.0,612.8 C500.4,611.1 500.4,611.2 499.6,610.4 C498.8,609.6 498.5,609.0 498.3,608.0 C498.1,607.0 498.2,605.1 498.2,604.5" stroke-width="1.9" fill="none" />
<path d="M686.2,539.6 L689.9,538.3" stroke-width="1.5" fill="none" />
<path d="M500.8,608.8 C503.3,610.3 510.6,614.7 515.5,617.6 C520.4,620.6 525.4,623.5 530.3,626.5 C535.2,629.4 540.7,632.7 545.0,635.3 C549.3,637.9 552.7,640.2 556.0,641.8 C559.3,643.4 562.3,644.3 565.0,645.0 C567.7,645.7 569.5,645.9 572.0,645.8 C574.5,645.7 578.7,644.5 580.0,644.2" stroke-width="1.1" fill="none" />
<path d="M517.6,590.6 C517.7,589.9 517.9,587.8 518.3,586.6 C518.7,585.4 519.3,584.3 520.1,583.2 C520.9,582.1 521.1,582.0 523.0,580.2 C524.9,578.4 528.5,575.1 531.2,572.6 C534.0,570.1 537.7,566.7 539.5,565.0 C541.3,563.3 541.1,563.7 541.8,562.6 C542.5,561.5 543.2,559.7 543.8,558.2 C544.4,556.7 544.9,555.0 545.5,553.6 C546.1,552.2 546.3,551.2 547.3,549.6 C548.3,548.0 550.2,545.5 551.5,544.1 C552.8,542.7 552.2,543.1 555.0,541.0 C557.8,538.9 563.9,534.5 568.3,531.2 C572.8,527.9 577.2,524.7 581.7,521.4 C586.1,518.1 592.1,513.7 595.0,511.6 C597.9,509.5 597.3,510.0 599.0,508.8 C600.7,507.6 603.6,505.4 605.4,504.4 C607.2,503.4 608.3,503.3 610.0,503.0 C611.7,502.7 613.8,502.5 615.6,502.5 C617.4,502.5 619.2,502.7 620.8,503.1 C622.4,503.6 622.2,503.7 625.0,505.2 C627.8,506.7 633.4,509.8 637.7,512.1 C641.9,514.4 646.1,516.7 650.3,519.0 C654.6,521.3 660.2,524.4 663.0,525.9 C665.8,527.4 665.9,527.2 666.9,528.1 C667.9,529.0 668.3,530.1 668.8,531.3 C669.3,532.4 669.8,533.8 670.0,535.0 C670.2,536.2 670.2,537.2 670.1,538.5 C670.0,539.8 670.0,541.5 669.3,542.6 C668.6,543.8 667.9,543.7 666.0,545.4 C664.1,547.1 660.7,550.2 658.0,552.6 C655.3,555.0 651.7,558.2 650.0,559.8 C648.3,561.4 648.5,561.2 647.7,562.1 C647.0,563.0 646.1,564.2 645.5,565.3 C644.9,566.4 644.4,567.4 643.8,568.5 C643.2,569.6 642.5,571.0 642.0,572.2 C641.5,573.4 641.4,574.4 640.6,575.5 C639.9,576.6 638.7,577.8 637.5,579.0 C636.3,580.2 635.2,581.3 633.6,582.6 C632.0,583.9 629.9,585.3 628.0,586.6 C626.1,587.9 624.0,589.2 622.1,590.3 C620.2,591.4 618.5,592.3 616.8,593.3 C615.1,594.2 613.3,595.1 611.8,596.0 C610.3,596.9 609.6,597.3 608.0,598.8 C606.4,600.3 604.1,602.9 602.2,605.0 C600.2,607.0 598.3,609.1 596.3,611.1 C594.4,613.2 592.2,615.6 590.5,617.3 C588.8,619.0 587.6,620.1 586.4,621.1 C585.1,622.1 584.1,622.7 583.0,623.3 C581.9,623.9 580.8,624.4 579.5,624.6 C578.2,624.9 576.4,624.9 575.0,624.8 C573.6,624.6 572.4,624.3 570.9,623.7 C569.4,623.1 568.6,622.7 566.0,621.4 C563.4,620.1 559.0,617.6 555.5,615.6 C552.0,613.7 548.5,611.8 545.0,609.9 C541.5,608.0 538.0,606.1 534.5,604.1 C531.0,602.2 526.3,599.8 524.0,598.4 C521.7,597.0 521.5,596.8 520.6,596.0 C519.7,595.2 519.1,594.5 518.6,593.6 C518.1,592.7 517.8,591.1 517.6,590.6" stroke-width="1.9" fill="none" />
<path d="M519.4,591.6 C519.8,591.2 519.4,591.1 521.5,589.0 C523.6,586.9 528.3,582.3 531.8,579.0 C535.2,575.7 540.0,571.1 542.0,569.0 C544.0,566.9 543.3,567.6 543.9,566.6 C544.5,565.6 544.8,564.4 545.4,563.0 C546.0,561.6 546.6,559.5 547.2,558.0 C547.8,556.5 548.1,555.2 549.0,553.7 C549.9,552.2 551.3,550.4 552.5,549.0 C553.7,547.6 553.2,547.8 556.0,545.6 C558.8,543.4 564.9,538.9 569.3,535.6 C573.8,532.3 578.2,528.9 582.7,525.6 C587.1,522.3 593.1,517.7 596.0,515.6 C598.9,513.5 598.6,513.7 600.0,512.8 C601.4,511.9 602.5,510.9 604.1,510.1 C605.7,509.3 607.6,508.4 609.5,507.9 C611.4,507.4 613.5,506.8 615.6,506.9 C617.7,506.9 620.2,507.3 622.1,508.2 C624.0,509.1 625.5,510.9 627.0,512.2 C628.5,513.5 630.3,515.3 631.0,515.9" stroke-width="1.5" fill="none" />
<path d="M636.0,518.6 C637.8,519.4 643.0,521.8 646.5,523.5 C650.0,525.1 654.9,527.3 657.0,528.3 C659.1,529.3 658.4,528.8 659.2,529.4 C660.0,530.0 661.0,531.0 661.6,532.0 C662.2,533.0 662.4,534.3 663.1,535.1 C663.8,535.9 664.9,536.5 666.0,537.0 C667.1,537.5 668.9,538.1 669.5,538.3" stroke-width="1.5" fill="none" />
<path d="M570.1,533.8 L586.2,526.8 L588.7,528.1 L589.4,535.1 L581.7,542.2 L574.0,542.2 L572.1,534.5" stroke-width="1.6" fill="none" />
<path d="M577.2,532.6 L578.7,541.8" stroke-width="1.3" fill="none" />
<path d="M526.5,584.5 L541.3,570.4 L543.6,573.6 L543.2,578.7 L531.0,590.0 L526.5,584.5" stroke-width="1.6" fill="none" />
<path d="M529.1,582.6 L531.3,589.7" stroke-width="1.3" fill="none" />
<path d="M630.4,516.5 L633.6,520.4 L640.0,522.9 L641.9,520.8" stroke-width="1.5" fill="none" />
<path d="M659.9,530.6 L662.4,534.5 L668.8,537.9" stroke-width="1.5" fill="none" />
<path d="M655.6,576.4 L657.9,580.6 L661.2,581.3 L670.1,571.7 L670.1,568.5 L668.5,564.0" stroke-width="1.6" fill="none" />
<path d="M603.5,628.1 L607.9,628.7 L611.2,629.4 L620.1,621.7 L620.8,619.1 L618.5,612.3" stroke-width="1.6" fill="none" />
<path d="M619.7,613.3 L658.8,722.5" stroke-width="1.1" fill="none" />
<path d="M682.5,637.5 C686.2,635.5 697.1,629.5 705.0,625.5 C712.9,621.5 722.2,616.0 730.0,613.5 C737.8,611.0 744.5,611.4 752.0,610.8 C759.5,610.2 765.3,610.5 775.0,610.0 C784.7,609.5 801.5,608.4 810.0,607.5 C818.5,606.6 821.0,606.0 826.0,604.5 C831.0,603.0 835.2,601.1 840.0,598.8 C844.8,596.4 848.3,594.2 855.0,590.6 C861.7,587.0 871.7,581.6 880.0,577.0 C888.3,572.5 896.7,568.0 905.0,563.5 C913.3,559.0 921.7,554.4 930.0,549.9 C938.3,545.4 946.7,540.9 955.0,536.4 C963.3,531.8 974.6,525.9 980.0,522.8 C985.4,519.7 985.6,519.6 987.5,518.0 C989.4,516.4 990.6,515.0 991.5,513.0 C992.4,511.0 992.5,508.2 992.8,506.0 C993.0,503.8 992.9,502.8 993.0,500.0 C993.1,497.2 992.8,492.0 993.2,489.0 C993.7,486.0 994.4,483.9 995.5,482.0 C996.6,480.1 997.6,479.1 1000.0,477.5 C1002.4,475.9 1006.7,474.2 1010.0,472.5 C1013.3,470.8 1016.1,469.4 1020.0,467.5 C1023.9,465.6 1028.9,463.1 1033.3,460.8 C1037.8,458.6 1042.2,456.4 1046.7,454.2 C1051.1,451.9 1056.8,449.1 1060.0,447.5 C1063.2,445.9 1063.9,445.4 1066.0,444.6 C1068.1,443.8 1070.2,442.7 1072.5,442.6 C1074.8,442.5 1077.4,442.9 1080.0,443.8 C1082.6,444.6 1084.7,446.0 1088.0,447.7 C1091.3,449.4 1096.0,451.7 1100.0,453.8 C1104.0,455.8 1109.0,458.2 1112.0,459.8 C1115.0,461.4 1116.5,462.4 1118.0,463.5 C1119.5,464.6 1120.7,465.8 1121.2,466.2" stroke-width="0.92" fill="none" stroke-dasharray="17 3.5 3.5 3.5" />
<path d="M690.0,640.5 C693.7,638.6 704.7,632.7 712.0,629.0 C719.3,625.3 726.8,620.4 734.0,618.2 C741.2,616.0 747.7,616.2 755.0,615.6 C762.3,615.0 768.5,615.4 778.0,614.8 C787.5,614.2 803.3,613.2 812.0,612.2 C820.7,611.2 824.5,610.2 830.0,608.6 C835.5,607.0 840.0,604.9 845.0,602.5 C850.0,600.1 853.3,598.0 860.0,594.4 C866.7,590.8 876.8,585.2 885.2,580.6 C893.6,576.1 902.0,571.5 910.4,566.9 C918.8,562.3 927.2,557.7 935.6,553.1 C944.0,548.5 952.4,543.9 960.8,539.4 C969.2,534.8 980.5,528.7 986.0,525.6 C991.5,522.5 991.6,522.6 993.5,521.0 C995.4,519.4 996.7,517.9 997.6,516.0 C998.5,514.1 998.6,511.7 998.9,509.5 C999.1,507.3 999.0,505.9 999.1,503.0 C999.2,500.1 998.9,494.8 999.2,492.0 C999.6,489.2 1000.0,487.8 1001.0,486.0 C1002.0,484.2 1003.0,483.0 1005.0,481.5 C1007.0,480.0 1010.2,478.7 1013.0,477.2 C1015.8,475.7 1018.4,474.5 1022.0,472.6 C1025.6,470.7 1030.4,468.0 1034.7,465.7 C1038.9,463.4 1043.1,461.2 1047.3,458.9 C1051.6,456.6 1056.8,453.7 1060.0,452.0 C1063.2,450.3 1064.2,449.6 1066.5,448.8 C1068.8,448.0 1071.2,447.3 1073.5,447.2 C1075.8,447.1 1077.6,447.6 1080.0,448.4 C1082.4,449.2 1084.8,450.6 1088.0,452.2 C1091.2,453.8 1095.3,455.9 1099.0,457.8 C1102.7,459.7 1108.2,462.5 1110.0,463.4" stroke-width="0.92" fill="none" stroke-dasharray="14 3 3 3" />
<path d="M1121.2,466.2 C1121.9,468.2 1123.5,473.2 1125.0,478.0 C1126.5,482.8 1128.8,489.2 1130.0,495.0 C1131.2,500.8 1132.2,507.8 1132.5,512.5 C1132.8,517.2 1131.9,519.7 1131.5,523.0 C1131.1,526.3 1130.8,528.9 1130.0,532.5 C1129.2,536.1 1128.0,540.8 1126.8,544.5 C1125.5,548.2 1124.1,551.7 1122.5,555.0 C1120.9,558.3 1119.1,561.6 1117.0,564.5 C1114.9,567.4 1112.7,569.8 1110.0,572.5 C1107.3,575.2 1104.3,578.0 1101.0,580.5 C1097.7,583.0 1094.3,584.6 1090.0,587.5 C1085.7,590.4 1083.3,592.1 1075.0,597.8 C1066.7,603.5 1051.7,613.8 1040.0,621.8 C1028.3,629.7 1016.7,637.7 1005.0,645.7 C993.3,653.7 981.7,661.7 970.0,669.6 C958.3,677.6 946.7,685.6 935.0,693.6 C923.3,701.6 911.7,709.6 900.0,717.5 C888.3,725.5 876.7,733.5 865.0,741.5 C853.3,749.5 841.7,757.5 830.0,765.4 C818.3,773.4 806.7,781.4 795.0,789.4 C783.3,797.4 771.7,805.4 760.0,813.3 C748.3,821.3 733.3,831.6 725.0,837.3 C716.7,843.0 715.0,844.3 710.0,847.5 C705.0,850.7 700.0,853.6 695.0,856.5 C690.0,859.4 682.5,863.6 680.0,865.0" stroke-width="0.92" fill="none" stroke-dasharray="17 3.5 3.5 3.5" />
<path d="M1121.2,466.2 C1121.0,467.7 1120.6,472.3 1120.0,475.0 C1119.4,477.7 1118.4,479.6 1117.5,482.5 C1116.6,485.4 1115.8,489.2 1114.5,492.5 C1113.2,495.8 1111.5,499.3 1110.0,502.5 C1108.5,505.7 1107.2,508.6 1105.5,511.5 C1103.8,514.4 1102.0,517.5 1100.0,520.0 C1098.0,522.5 1096.0,524.5 1093.5,526.6 C1091.0,528.7 1088.4,530.4 1085.0,532.5 C1081.6,534.6 1077.2,537.2 1073.0,539.5 C1068.8,541.8 1065.5,543.2 1060.0,546.2 C1054.5,549.3 1048.3,553.0 1040.0,557.8 C1031.7,562.6 1020.0,569.3 1010.0,575.1 C1000.0,580.9 990.0,586.6 980.0,592.4 C970.0,598.2 960.0,603.9 950.0,609.7 C940.0,615.5 930.0,621.2 920.0,627.0 C910.0,632.8 900.0,638.5 890.0,644.3 C880.0,650.1 870.0,655.8 860.0,661.6 C850.0,667.4 840.0,673.1 830.0,678.9 C820.0,684.7 808.3,691.4 800.0,696.2 C791.7,701.0 783.3,705.6 780.0,707.5" stroke-width="0.92" fill="none" stroke-dasharray="17 3.5 3.5 3.5" />
<path d="M842.5,607.5 L850.0,603.2 L880.4,586.0 L910.8,568.7 L941.2,551.5 L971.6,534.2 L1002.0,517.0 L1010.0,512.5 L1018.0,516.5 L1034.0,524.5 L1050.0,532.5 L1057.5,536.2 L1048.0,541.8 L1018.0,559.2 L988.0,576.7 L958.0,594.1 L928.0,611.6 L898.0,629.0 L890.0,633.8 L883.0,630.0 L866.5,620.8 L850.0,611.6 Z" stroke-width="1.0" fill="none" />
<path d="M850.0,611.0 L858.0,606.5 L887.0,589.4 L916.0,572.3 L945.0,555.2 L974.0,538.1 L1003.0,521.0 L1011.2,516.5 L1018.0,519.8 L1035.2,528.4 L1052.5,537.0" stroke-width="0.9" fill="none" stroke-dasharray="14 3 3 3" />
<path d="M1000.0,517.5 C1000.0,519.1 1000.2,523.9 1000.0,527.0 C999.8,530.1 999.5,533.7 998.8,536.2 C998.0,538.8 997.0,540.6 995.5,542.5 C994.0,544.4 993.2,545.2 990.0,547.5 C986.8,549.8 981.0,553.1 976.0,556.0 C971.0,558.9 965.2,562.0 960.0,565.0 C954.8,568.0 951.2,570.1 945.0,574.3 C938.8,578.5 930.0,584.7 922.5,589.9 C915.0,595.2 907.5,600.4 900.0,605.6 C892.5,610.8 881.2,618.6 877.5,621.2" stroke-width="0.9" fill="none" />
<path d="M995.0,540.0 C993.8,541.7 991.3,546.6 988.0,550.0 C984.7,553.4 981.1,556.1 975.0,560.5 C968.9,564.9 959.2,571.0 951.2,576.3 C943.3,581.6 935.4,586.9 927.5,592.1 C919.6,597.4 911.7,602.7 903.8,607.9 C895.8,613.2 884.0,621.1 880.0,623.8" stroke-width="0.9" fill="none" stroke-dasharray="14 3 3 3" />
<path d="M872.5,622.5 L890.0,633.8" stroke-width="0.9" fill="none" />
<path d="M1018.8,475.0 L1022.5,471.2 L1030.0,467.3 L1046.0,458.8 L1062.0,450.3 L1067.5,447.5 L1073.8,446.2 L1081.0,449.8 L1094.5,456.6 L1108.0,463.4 L1113.8,466.2 L1111.2,470.0 L1104.0,473.7 L1086.0,482.9 L1068.0,492.2 L1062.5,495.0 L1055.0,496.2 L1048.0,492.8 L1036.0,486.8 L1024.0,480.8 L1020.0,478.8 Z" stroke-width="1.0" fill="none" />
<path d="M1068.8,448.8 L1067.5,472.5" stroke-width="0.9" fill="none" />
<ellipse cx="1087.5" cy="468.8" rx="5.0" ry="8.2" stroke-width="0.9" fill="none" transform="rotate(-22 1087.5 468.8)"/>
<path d="M1040.0,485.0 C1042.0,484.0 1047.8,481.1 1052.0,479.2 C1056.2,477.3 1061.7,474.8 1065.0,473.8 C1068.3,472.8 1069.9,473.0 1072.0,473.2 C1074.1,473.4 1075.5,473.9 1077.5,475.0 C1079.5,476.1 1084.7,478.1 1083.8,480.0 C1082.8,481.9 1076.0,484.4 1072.0,486.5 C1068.0,488.6 1062.0,491.5 1060.0,492.5" stroke-width="0.9" fill="none" />
<path d="M1046.0,488.2 C1048.0,487.2 1054.3,484.2 1058.0,482.5 C1061.7,480.8 1065.0,478.4 1068.0,478.0 C1071.0,477.6 1074.7,479.7 1076.0,480.0" stroke-width="0.9" fill="none" stroke-dasharray="10 3" />
<path d="M1025.0,476.5 C1028.2,474.8 1038.0,469.5 1044.5,466.0 C1051.0,462.5 1060.8,457.2 1064.0,455.5" stroke-width="0.9" fill="none" stroke-dasharray="12 3" />
<path d="M725.0,650.0 C725.1,647.1 726.3,643.3 728.0,640.0 C729.7,636.7 731.0,632.9 735.0,630.0 C739.0,627.1 745.3,624.3 752.0,622.5 C758.7,620.7 768.2,619.5 775.0,619.0 C781.8,618.5 787.2,619.0 793.0,619.6 C798.8,620.2 804.7,620.9 810.0,622.5 C815.3,624.1 820.8,626.5 825.0,629.0 C829.2,631.5 832.8,634.7 835.0,637.5 C837.2,640.3 838.1,643.1 838.5,646.0 C838.9,648.9 838.8,651.9 837.5,655.0 C836.2,658.1 833.9,661.6 831.0,664.5 C828.1,667.4 825.0,670.2 820.0,672.5 C815.0,674.8 807.7,676.8 801.0,678.0 C794.3,679.2 786.7,680.0 780.0,680.0 C773.3,680.0 766.8,679.0 761.0,677.8 C755.2,676.5 749.7,674.5 745.0,672.5 C740.3,670.5 735.9,668.0 733.0,665.5 C730.1,663.0 728.8,660.1 727.5,657.5 C726.2,654.9 724.9,652.9 725.0,650.0 Z" stroke-width="1.0" fill="none" stroke-dasharray="17 3.5 3.5 3.5" />
<path d="M545.0,745.0 C546.8,741.1 551.0,735.2 556.0,729.0 C561.0,722.8 567.7,715.7 575.0,708.0 C582.3,700.3 592.2,690.8 600.0,683.0 C607.8,675.2 615.3,667.3 622.0,661.0 C628.7,654.7 634.5,648.8 640.0,645.0 C645.5,641.2 650.0,640.0 655.0,638.5 C660.0,637.0 665.0,636.2 670.0,636.2 C675.0,636.3 679.2,636.8 685.0,638.8 C690.8,640.7 697.9,644.5 705.0,648.0 C712.1,651.5 721.5,656.5 727.5,660.0 C733.5,663.5 737.2,665.7 741.0,669.0 C744.8,672.3 747.9,677.2 750.0,680.0 C752.1,682.8 753.1,683.9 753.5,686.0 C753.9,688.1 753.4,689.5 752.5,692.5 C751.6,695.5 750.1,700.2 748.0,704.0 C745.9,707.8 745.5,709.0 740.0,715.0 C734.5,721.0 724.2,731.2 715.0,740.0 C705.8,748.8 695.0,758.8 685.0,768.0 C675.0,777.2 661.7,789.4 655.0,795.0 C648.3,800.6 648.3,799.8 645.0,801.5 C641.7,803.2 638.3,804.2 635.0,805.0 C631.7,805.8 628.3,806.5 625.0,806.5 C621.7,806.5 620.8,807.2 615.0,805.0 C609.2,802.8 598.3,797.7 590.0,793.5 C581.7,789.3 571.0,783.8 565.0,780.0 C559.0,776.2 556.9,773.8 554.0,770.5 C551.1,767.2 549.0,763.0 547.5,760.0 C546.0,757.0 545.4,755.0 545.0,752.5 C544.6,750.0 543.2,748.9 545.0,745.0 Z" stroke-width="1.0" fill="none" stroke-dasharray="17 3.5 3.5 3.5" />
<path d="M553.1,757.0 C553.2,755.5 553.2,750.8 554.0,748.0 C554.8,745.2 555.6,742.9 558.0,740.5 C560.4,738.1 565.6,736.0 568.4,733.8 C571.2,731.5 572.9,729.4 575.0,727.0 C577.1,724.6 578.9,722.3 581.1,719.4 C583.3,716.5 585.6,712.8 588.0,709.5 C590.4,706.2 592.5,702.8 595.5,699.5 C598.5,696.2 602.4,693.0 606.0,690.0 C609.6,687.0 613.4,684.6 617.1,681.5 C620.8,678.4 624.4,674.8 628.0,671.5 C631.6,668.2 635.8,664.0 638.8,661.6 C641.8,659.2 643.6,658.4 646.0,657.2 C648.4,656.0 652.0,654.9 653.2,654.4" stroke-width="0.9" fill="none" stroke-dasharray="12 3 3 3" />
<path d="M689.3,661.6 C691.2,662.7 697.1,665.9 701.0,668.0 C704.9,670.1 709.6,672.4 712.7,674.3 C715.8,676.2 717.4,677.6 719.5,679.4 C721.6,681.2 723.6,683.4 725.3,685.1 C727.0,686.8 728.6,688.0 729.5,689.5 C730.4,691.0 730.8,692.1 730.8,694.1 C730.8,696.1 730.4,699.1 729.5,701.5 C728.6,703.9 727.5,706.0 725.3,708.5 C723.1,711.0 719.5,714.1 716.5,716.8 C713.5,719.5 709.5,722.4 707.3,724.8 C705.1,727.2 704.4,728.9 703.2,731.0 C702.0,733.1 702.1,735.2 700.1,737.4 C698.1,739.6 694.3,741.9 691.0,744.0 C687.7,746.1 684.3,747.4 680.3,750.0 C676.3,752.6 671.5,756.5 667.0,759.8 C662.5,763.1 656.5,766.9 653.2,769.8 C650.0,772.7 649.3,774.6 647.5,777.0 C645.7,779.4 643.2,783.1 642.4,784.3" stroke-width="0.9" fill="none" stroke-dasharray="12 3 3 3" />
<path d="M557.6,765.5 C559.0,766.7 562.3,770.4 566.0,772.5 C569.7,774.6 575.2,776.2 580.0,778.0 C584.8,779.8 589.8,781.6 595.0,783.5 C600.2,785.4 608.3,788.5 611.0,789.5" stroke-width="0.9" fill="none" stroke-dasharray="10 3" />
<path d="M545.0,745.0 C544.3,748.0 542.5,756.3 541.0,763.0 C539.5,769.7 537.7,778.0 536.2,785.0 C534.8,792.0 533.5,798.8 532.5,805.0 C531.5,811.2 530.5,817.5 530.0,822.5 C529.5,827.5 529.0,831.2 529.3,835.0 C529.6,838.8 530.6,842.1 532.0,845.0 C533.4,847.9 534.7,849.6 537.5,852.5 C540.3,855.4 544.4,859.2 549.0,862.5 C553.6,865.8 557.8,869.0 565.0,872.5 C572.2,876.0 582.4,880.0 592.0,883.5 C601.6,887.0 614.9,891.4 622.5,893.8 C630.1,896.1 633.8,897.3 637.5,897.5 C641.2,897.7 643.1,896.2 645.0,895.0 C646.9,893.8 648.1,890.8 648.8,890.0" stroke-width="0.92" fill="none" stroke-dasharray="17 3.5 3.5 3.5" />
<path d="M622.5,893.8 C622.8,890.1 623.4,879.3 624.0,872.0 C624.6,864.7 625.4,854.9 626.2,850.0 C627.1,845.1 627.5,844.6 629.0,842.5 C630.5,840.4 632.3,839.2 635.0,837.5 C637.7,835.8 641.7,833.8 645.0,832.5 C648.3,831.2 652.0,830.5 655.0,830.0 C658.0,829.5 660.5,829.2 663.0,829.2 C665.5,829.2 668.2,829.4 670.0,830.0 C671.8,830.6 672.7,831.8 673.5,833.0 C674.3,834.2 674.3,834.5 675.0,837.5 C675.7,840.5 676.7,846.4 677.5,851.0 C678.3,855.6 680.2,861.8 680.0,865.0 C679.8,868.2 677.5,868.5 676.0,870.0 C674.5,871.5 672.0,873.1 671.2,873.8" stroke-width="0.92" fill="none" stroke-dasharray="14 3 3 3" />
<path d="M648.8,890.0 C648.7,888.3 648.6,883.3 648.6,880.0 C648.6,876.7 648.4,873.0 648.8,870.0 C649.1,867.0 649.7,864.3 650.5,862.0 C651.3,859.7 652.5,857.8 653.8,856.2 C655.0,854.7 656.5,853.4 658.0,852.6 C659.5,851.8 661.2,851.2 662.5,851.2 C663.8,851.3 664.7,852.0 665.5,852.8 C666.3,853.6 667.0,854.4 667.5,856.2 C668.0,858.1 668.2,861.3 668.4,864.0 C668.6,866.7 668.3,870.9 668.8,872.5 C669.2,874.1 670.8,873.5 671.2,873.8" stroke-width="0.9" fill="none" />
<path d="M747.5,676.2 C749.2,677.9 754.7,682.5 758.0,686.0 C761.3,689.5 766.0,694.4 767.5,697.5 C769.0,700.6 767.6,702.4 767.2,704.5 C766.8,706.6 766.2,708.2 765.0,710.0 C763.8,711.8 760.8,714.2 760.0,715.0" stroke-width="0.9" fill="none" stroke-dasharray="12 3 3 3" />
<path d="M758.8,716.2 L776.2,705.0 L780.0,708.8 L762.5,720.0 Z" stroke-width="0.9" fill="none" />
<path d="M559.7,766.5 C559.5,766.2 559.0,765.4 558.8,764.8 C558.5,764.3 558.4,763.7 558.3,763.1 C558.2,762.5 558.2,761.9 558.2,761.3 C558.3,760.7 558.4,760.0 558.6,759.4 C558.8,758.8 559.1,758.2 559.5,757.6 C559.9,757.1 560.3,756.5 560.8,755.9 C561.3,755.4 561.8,754.9 562.4,754.4 C563.0,753.9 563.7,753.4 564.4,753.0 C565.1,752.6 565.9,752.2 566.7,751.9 C567.5,751.5 568.3,751.2 569.2,751.0 C570.0,750.7 570.9,750.5 571.8,750.4 C572.7,750.3 573.6,750.2 574.5,750.1 C575.4,750.1 576.3,750.1 577.1,750.1 C578.0,750.2 578.9,750.3 579.7,750.5 C580.5,750.6 581.3,750.8 582.1,751.1 C582.9,751.3 583.6,751.6 584.3,752.0 C584.9,752.3 585.6,752.7 586.1,753.2 C586.7,753.6 587.2,754.1 587.6,754.6 C588.1,755.1 588.4,755.6 588.7,756.1 C589.0,756.7 589.2,757.3 589.4,757.8 C589.5,758.4 589.6,759.0 589.6,759.6 C589.6,760.2 589.5,760.9 589.4,761.5 C589.2,762.1 589.0,762.7 588.7,763.3 C588.4,763.9 587.7,764.7 587.6,765.0" stroke-width="1.0" fill="none" />
<ellipse cx="573.9" cy="761.3" rx="9.8" ry="6.6" stroke-width="1.2" fill="none" transform="rotate(-8 573.9 761.3)"/>
<ellipse cx="574.5" cy="763.0" rx="7.2" ry="4.6" stroke-width="1.0" fill="none" transform="rotate(-8 574.5 763.0)"/>
<path d="M612.9,797.2 C612.7,796.9 612.2,796.1 612.0,795.5 C611.7,795.0 611.6,794.4 611.5,793.8 C611.4,793.2 611.4,792.6 611.4,792.0 C611.5,791.4 611.6,790.7 611.8,790.1 C612.0,789.5 612.3,788.9 612.7,788.3 C613.1,787.8 613.5,787.2 614.0,786.6 C614.5,786.1 615.0,785.6 615.6,785.1 C616.2,784.6 616.9,784.1 617.6,783.7 C618.3,783.3 619.1,782.9 619.9,782.6 C620.7,782.2 621.5,781.9 622.4,781.7 C623.2,781.4 624.1,781.2 625.0,781.1 C625.9,781.0 626.8,780.9 627.7,780.8 C628.6,780.8 629.5,780.8 630.3,780.8 C631.2,780.9 632.1,781.0 632.9,781.2 C633.7,781.3 634.5,781.5 635.3,781.8 C636.1,782.0 636.8,782.3 637.5,782.7 C638.1,783.0 638.8,783.4 639.3,783.9 C639.9,784.3 640.4,784.8 640.8,785.3 C641.3,785.8 641.6,786.3 641.9,786.8 C642.2,787.4 642.4,788.0 642.6,788.5 C642.7,789.1 642.8,789.7 642.8,790.3 C642.8,790.9 642.7,791.6 642.6,792.2 C642.4,792.8 642.2,793.4 641.9,794.0 C641.6,794.6 640.9,795.4 640.8,795.7" stroke-width="1.0" fill="none" />
<ellipse cx="627.1" cy="792.0" rx="9.8" ry="6.6" stroke-width="1.2" fill="none" transform="rotate(-8 627.1 792.0)"/>
<ellipse cx="627.7" cy="793.7" rx="7.2" ry="4.6" stroke-width="1.0" fill="none" transform="rotate(-8 627.7 793.7)"/>
<path d="M590.0,760.0 C594.6,756.5 608.3,745.8 617.5,738.8 C626.7,731.7 635.8,724.6 645.0,717.5 C654.2,710.4 663.3,703.3 672.5,696.2 C681.7,689.2 695.4,678.5 700.0,675.0" stroke-width="0.9" fill="none" stroke-dasharray="12 3" />
<path d="M595.0,766.0 C599.6,762.4 613.5,751.8 622.8,744.6 C632.0,737.5 641.2,730.4 650.5,723.2 C659.8,716.1 669.0,709.0 678.2,701.9 C687.5,694.8 701.4,684.1 706.0,680.5" stroke-width="0.9" fill="none" stroke-dasharray="12 3" />
<path d="M677.8,652.5 L675.0,702.0 L678.8,703.0 L680.6,653.5 Z" stroke-width="1.0" fill="none" />
<path d="M667.0,654.0 C667.8,653.3 670.2,650.8 672.0,650.0 C673.8,649.2 675.7,649.3 678.0,649.5 C680.3,649.7 684.0,650.1 686.0,651.0 C688.0,651.9 689.3,654.3 690.0,655.0" stroke-width="1.0" fill="none" />
<path d="M656.0,655.5 L663.0,651.5 L671.0,653.0 L670.0,657.5" stroke-width="0.9" fill="none" />
<path d="M577.7,716.2 L590.3,706.3 L588.3,703.8 L575.7,713.7 Z" stroke-width="0.8" fill="none" />
<path d="M624.7,673.2 L637.3,663.3 L635.3,660.8 L622.7,670.7 Z" stroke-width="0.8" fill="none" />
<path d="M712.7,718.2 L725.3,708.3 L723.3,705.8 L710.7,715.7 Z" stroke-width="0.8" fill="none" />
<path d="M665.7,767.2 L678.3,757.3 L676.3,754.8 L663.7,764.7 Z" stroke-width="0.8" fill="none" />
<path d="M712.5,675.0 C714.1,675.2 719.4,675.5 722.0,676.5 C724.6,677.5 726.7,678.8 728.0,681.0 C729.3,683.2 730.5,686.8 730.0,690.0 C729.5,693.2 728.0,696.3 725.0,700.0 C722.0,703.7 714.2,710.0 712.0,712.0" stroke-width="0.9" fill="none" />
<path d="M712.0,672.0 L718.0,669.5 L722.0,671.5 L727.0,670.5 L729.0,675.0" stroke-width="0.9" fill="none" />
<path d="M569.3,734.0 L569.3,749.0" stroke-width="1.0" fill="none" />
<path d="M572.2,733.0 L572.2,750.0" stroke-width="1.0" fill="none" />
<path d="M581.0,721.5 L581.0,749.0" stroke-width="1.2" fill="none" />
<path d="M583.8,719.5 L583.8,750.0" stroke-width="1.2" fill="none" />
<path d="M586.5,721.5 L585.8,749.0" stroke-width="1.0" fill="none" />
<path d="M557.5,754.5 L561.0,750.0 L565.5,751.0 L563.5,755.5 Z" stroke-width="0.9" fill="none" />
<path d="M601.0,770.0 L610.0,777.0 L616.0,772.0 L622.0,776.0 L620.0,790.0" stroke-width="0.9" fill="none" />
<path d="M707.5,850.0 L756.0,971.0" stroke-width="1.1" fill="none" />
<ellipse cx="757.9" cy="981.2" rx="13.1" ry="10.6" stroke-width="0.95" fill="none" transform="rotate(-8 757.9 981.2)"/>
<path d="M748.0,994.3 C748.2,995.2 747.9,997.5 748.9,999.3 C749.8,1001.0 751.0,1003.6 753.8,1005.0 C756.5,1006.4 761.4,1008.1 765.2,1007.5 C769.1,1006.8 774.5,1003.2 776.7,1000.9 C779.0,998.6 778.4,995.7 778.7,993.5 C779.0,991.3 779.1,989.3 778.4,987.8 C777.6,986.3 774.9,985.1 774.3,984.5" stroke-width="0.95" fill="none" />
<path d="M750.5,1010.7 C751.6,1011.8 754.6,1015.5 757.0,1017.0 C759.5,1018.5 762.4,1019.6 765.2,1019.8 C768.1,1019.9 771.5,1019.3 774.3,1018.1 C777.0,1016.9 779.8,1014.4 781.6,1012.4 C783.5,1010.3 784.7,1008.0 785.2,1005.8 C785.8,1003.6 785.8,1002.0 784.9,999.3 C784.0,996.5 780.8,991.1 780.0,989.4" stroke-width="0.95" fill="none" />
<path d="M743.9,1005.8 C744.0,1006.9 743.7,1010.2 744.3,1012.4 C744.8,1014.6 745.4,1016.7 747.2,1018.9 C749.1,1021.1 752.1,1024.0 755.4,1025.5 C758.7,1027.0 763.1,1027.9 766.9,1028.0 C770.7,1028.0 775.1,1027.0 778.4,1025.8 C781.6,1024.6 784.2,1022.8 786.6,1020.6 C788.9,1018.3 791.2,1015.1 792.3,1012.4 C793.4,1009.6 793.5,1007.2 793.1,1004.2 C792.7,1001.2 790.4,996.0 789.8,994.3" stroke-width="0.95" fill="none" />
<path d="M745.6,1000.9 C745.7,1002.3 745.4,1006.5 746.4,1009.1 C747.3,1011.7 750.5,1015.2 751.3,1016.5" stroke-width="0.85" fill="none" />
<ellipse cx="773.0" cy="1013.0" rx="61.5" ry="47.0" stroke-width="0.95" fill="none" transform="rotate(-12 773.0 1013.0)" stroke-dasharray="9 3"/>
<ellipse cx="768.8" cy="1008.8" rx="39.0" ry="30.0" stroke-width="0.95" fill="none" transform="rotate(-10 768.8 1008.8)" stroke-dasharray="9 3"/>
<path d="M833.9,1009.7 C833.9,1010.6 833.9,1013.2 833.7,1014.9 C833.5,1016.7 833.2,1018.4 832.8,1020.1 C832.3,1021.8 831.8,1023.6 831.1,1025.3 C830.5,1027.0 829.7,1028.7 828.8,1030.3 C827.9,1032.0 826.9,1033.6 825.8,1035.2 C824.7,1036.8 823.4,1038.3 822.1,1039.8 C820.8,1041.3 819.4,1042.8 817.9,1044.2 C816.4,1045.6 814.8,1046.9 813.2,1048.2 C811.5,1049.5 809.7,1050.7 807.9,1051.9 C806.1,1053.0 804.2,1054.1 802.3,1055.1 C800.4,1056.1 798.3,1057.0 796.3,1057.8 C794.3,1058.7 792.2,1059.4 790.0,1060.1 C787.9,1060.7 785.7,1061.3 783.6,1061.8 C781.4,1062.3 779.2,1062.7 777.0,1063.0 C774.8,1063.3 772.5,1063.5 770.3,1063.6 C768.1,1063.7 765.9,1063.7 763.7,1063.7 C761.5,1063.6 759.3,1063.4 757.2,1063.2 C755.1,1062.9 752.9,1062.5 750.9,1062.1 C748.8,1061.7 746.8,1061.1 744.8,1060.5 C742.9,1059.9 741.0,1059.1 739.1,1058.3 C737.3,1057.5 735.5,1056.7 733.8,1055.7 C732.1,1054.7 730.5,1053.7 729.0,1052.6 C727.4,1051.5 726.0,1050.3 724.6,1049.0 C723.3,1047.8 721.5,1045.7 720.9,1045.1" stroke-width="0.95" fill="none" stroke-dasharray="9 3" />
<path d="M833.5,1013.8 C833.5,1014.7 833.5,1017.3 833.3,1019.0 C833.1,1020.7 832.8,1022.5 832.4,1024.2 C832.0,1025.9 831.4,1027.7 830.8,1029.3 C830.1,1031.0 829.3,1032.7 828.4,1034.4 C827.6,1036.0 826.6,1037.7 825.5,1039.2 C824.4,1040.8 823.2,1042.4 821.9,1043.9 C820.6,1045.4 819.2,1046.8 817.7,1048.2 C816.2,1049.6 814.6,1051.0 813.0,1052.3 C811.3,1053.5 809.6,1054.7 807.8,1055.9 C806.0,1057.0 804.1,1058.1 802.2,1059.1 C800.2,1060.1 798.2,1061.0 796.2,1061.8 C794.2,1062.7 792.1,1063.4 790.0,1064.1 C787.9,1064.7 785.7,1065.3 783.6,1065.8 C781.4,1066.3 779.2,1066.7 777.0,1067.0 C774.8,1067.3 772.6,1067.5 770.4,1067.6 C768.2,1067.7 766.0,1067.7 763.8,1067.6 C761.7,1067.6 759.5,1067.4 757.4,1067.1 C755.2,1066.9 753.1,1066.5 751.1,1066.1 C749.0,1065.6 747.0,1065.1 745.1,1064.4 C743.1,1063.8 741.2,1063.1 739.4,1062.3 C737.6,1061.5 735.8,1060.6 734.1,1059.6 C732.4,1058.7 730.8,1057.6 729.3,1056.5 C727.8,1055.4 726.3,1054.2 725.0,1053.0 C723.6,1051.7 721.9,1049.7 721.2,1049.0" stroke-width="0.95" fill="none" stroke-dasharray="9 3" />
<path d="M833.2,1017.9 C833.1,1018.8 833.1,1021.4 833.0,1023.1 C832.8,1024.8 832.5,1026.6 832.0,1028.3 C831.6,1030.0 831.1,1031.7 830.4,1033.4 C829.8,1035.1 829.0,1036.8 828.1,1038.5 C827.2,1040.1 826.2,1041.7 825.2,1043.3 C824.1,1044.9 822.9,1046.4 821.6,1047.9 C820.3,1049.4 818.9,1050.9 817.4,1052.3 C816.0,1053.7 814.4,1055.0 812.8,1056.3 C811.1,1057.6 809.4,1058.8 807.6,1059.9 C805.8,1061.1 803.9,1062.1 802.0,1063.1 C800.1,1064.1 798.1,1065.0 796.1,1065.9 C794.1,1066.7 792.0,1067.4 789.9,1068.1 C787.8,1068.8 785.7,1069.3 783.5,1069.8 C781.4,1070.3 779.2,1070.7 777.0,1071.0 C774.9,1071.3 772.7,1071.5 770.5,1071.6 C768.3,1071.7 766.1,1071.7 763.9,1071.6 C761.8,1071.5 759.6,1071.4 757.5,1071.1 C755.4,1070.8 753.3,1070.5 751.3,1070.0 C749.2,1069.6 747.2,1069.0 745.3,1068.4 C743.4,1067.8 741.5,1067.0 739.7,1066.2 C737.8,1065.4 736.1,1064.5 734.4,1063.6 C732.7,1062.6 731.1,1061.6 729.6,1060.4 C728.1,1059.3 726.7,1058.1 725.3,1056.9 C724.0,1055.6 722.2,1053.6 721.6,1052.9" stroke-width="0.95" fill="none" stroke-dasharray="9 3" />
<path d="M832.8,1022.0 C832.7,1022.8 832.8,1025.4 832.6,1027.2 C832.4,1028.9 832.1,1030.6 831.7,1032.4 C831.3,1034.1 830.7,1035.8 830.1,1037.5 C829.4,1039.2 828.7,1040.9 827.8,1042.5 C826.9,1044.2 825.9,1045.8 824.9,1047.4 C823.8,1049.0 822.6,1050.5 821.3,1052.0 C820.0,1053.5 818.7,1055.0 817.2,1056.3 C815.7,1057.7 814.2,1059.1 812.5,1060.3 C810.9,1061.6 809.2,1062.8 807.4,1064.0 C805.7,1065.1 803.8,1066.2 801.9,1067.2 C800.0,1068.1 798.0,1069.1 796.0,1069.9 C794.0,1070.7 792.0,1071.4 789.9,1072.1 C787.8,1072.8 785.7,1073.3 783.5,1073.8 C781.4,1074.3 779.2,1074.7 777.1,1075.0 C774.9,1075.3 772.7,1075.5 770.6,1075.6 C768.4,1075.7 766.2,1075.7 764.1,1075.6 C761.9,1075.5 759.8,1075.3 757.7,1075.1 C755.6,1074.8 753.5,1074.4 751.5,1074.0 C749.5,1073.5 747.5,1073.0 745.5,1072.3 C743.6,1071.7 741.7,1071.0 739.9,1070.2 C738.1,1069.4 736.4,1068.5 734.7,1067.5 C733.0,1066.5 731.4,1065.5 729.9,1064.4 C728.4,1063.3 727.0,1062.1 725.7,1060.8 C724.3,1059.5 722.6,1057.5 722.0,1056.8" stroke-width="0.95" fill="none" stroke-dasharray="9 3" />
<path d="M832.4,1026.1 C832.3,1026.9 832.4,1029.5 832.2,1031.2 C832.0,1033.0 831.7,1034.7 831.3,1036.4 C830.9,1038.2 830.4,1039.9 829.7,1041.6 C829.1,1043.3 828.3,1044.9 827.5,1046.6 C826.6,1048.2 825.6,1049.9 824.6,1051.4 C823.5,1053.0 822.3,1054.6 821.0,1056.1 C819.8,1057.6 818.4,1059.0 816.9,1060.4 C815.5,1061.8 814.0,1063.1 812.3,1064.4 C810.7,1065.7 809.0,1066.9 807.3,1068.0 C805.5,1069.1 803.7,1070.2 801.8,1071.2 C799.9,1072.2 797.9,1073.1 795.9,1073.9 C794.0,1074.7 791.9,1075.5 789.8,1076.1 C787.8,1076.8 785.7,1077.3 783.5,1077.8 C781.4,1078.3 779.3,1078.7 777.1,1079.0 C775.0,1079.2 772.8,1079.4 770.6,1079.5 C768.5,1079.6 766.3,1079.7 764.2,1079.6 C762.1,1079.5 759.9,1079.3 757.8,1079.0 C755.8,1078.8 753.7,1078.4 751.7,1077.9 C749.7,1077.5 747.7,1076.9 745.8,1076.3 C743.9,1075.7 742.0,1074.9 740.2,1074.1 C738.4,1073.3 736.6,1072.4 735.0,1071.4 C733.3,1070.5 731.7,1069.4 730.2,1068.3 C728.8,1067.2 727.3,1066.0 726.0,1064.7 C724.7,1063.5 722.9,1061.4 722.3,1060.8" stroke-width="0.95" fill="none" stroke-dasharray="9 3" />
<path d="M712.0,1030.5 C710.0,1031.0 703.0,1032.7 700.0,1033.8 C697.0,1034.8 695.5,1035.6 693.8,1037.0 C692.0,1038.4 690.3,1040.5 689.5,1042.0 C688.7,1043.5 688.5,1044.6 688.8,1046.2 C689.0,1047.9 690.0,1050.2 691.0,1052.0 C692.0,1053.8 692.2,1055.2 695.0,1057.0 C697.8,1058.8 702.7,1060.4 707.5,1063.0 C712.3,1065.6 719.1,1069.8 723.8,1072.5 C728.4,1075.2 733.5,1078.3 735.5,1079.5" stroke-width="0.95" fill="none" />
<path d="M690.0,1048.8 C690.3,1049.8 690.8,1053.0 692.0,1055.0 C693.2,1057.0 694.0,1058.5 697.0,1060.5 C700.0,1062.5 705.2,1064.4 710.0,1067.0 C714.8,1069.6 721.0,1073.6 725.5,1076.2 C730.0,1078.9 735.1,1081.9 737.0,1083.0" stroke-width="0.85" fill="none" />
<ellipse cx="702.0" cy="1045.0" rx="6.2" ry="4.2" stroke-width="0.95" fill="none" transform="rotate(-18 702.0 1045.0)"/>
<ellipse cx="702.8" cy="1045.6" rx="4.4" ry="2.8" stroke-width="0.8" fill="none" transform="rotate(-18 702.8 1045.6)"/>
<path d="M823.8,987.5 C826.5,988.8 834.8,992.5 840.0,995.0 C845.2,997.5 851.2,1000.3 855.0,1002.5 C858.8,1004.7 860.6,1006.2 862.5,1008.0 C864.4,1009.8 865.6,1011.0 866.5,1013.0 C867.4,1015.0 868.2,1018.0 868.0,1020.0 C867.8,1022.0 866.3,1023.7 865.0,1025.0 C863.7,1026.3 862.3,1027.1 860.0,1028.0 C857.7,1028.9 853.8,1029.7 851.2,1030.5 C848.8,1031.3 847.2,1031.8 845.0,1033.0 C842.8,1034.2 839.9,1036.3 838.0,1038.0 C836.1,1039.7 835.1,1040.9 833.8,1043.0 C832.4,1045.1 830.6,1049.2 830.0,1050.5" stroke-width="0.95" fill="none" />
<path d="M868.8,1022.0 C868.2,1023.0 866.9,1026.5 865.5,1028.0 C864.1,1029.5 862.8,1030.3 860.5,1031.2 C858.2,1032.2 854.4,1032.9 852.0,1033.8 C849.6,1034.6 848.2,1035.0 846.2,1036.2 C844.2,1037.5 841.8,1039.5 840.0,1041.2 C838.2,1043.0 836.8,1044.5 835.5,1046.5 C834.2,1048.5 832.6,1051.9 832.0,1053.0" stroke-width="0.85" fill="none" />
<ellipse cx="853.0" cy="1017.0" rx="6.6" ry="4.4" stroke-width="0.95" fill="none" transform="rotate(-15 853.0 1017.0)"/>
<ellipse cx="853.8" cy="1017.6" rx="4.6" ry="3.0" stroke-width="0.8" fill="none" transform="rotate(-15 853.8 1017.6)"/>
<path d="M735.5,1079.5 C737.1,1079.2 742.0,1078.0 745.0,1078.0 C748.0,1078.0 751.3,1078.5 753.8,1079.5 C756.2,1080.5 757.8,1081.8 759.5,1083.8 C761.2,1085.7 762.5,1088.9 763.8,1091.2 C765.0,1093.6 765.8,1096.2 767.0,1098.0 C768.2,1099.8 769.1,1101.0 771.2,1102.0 C773.4,1103.0 777.3,1104.1 780.0,1104.0 C782.7,1103.9 785.0,1103.0 787.5,1101.5 C790.0,1100.0 792.5,1097.5 795.0,1095.0 C797.5,1092.5 799.8,1089.5 802.5,1086.5 C805.2,1083.5 808.3,1080.2 811.2,1077.0 C814.2,1073.8 816.9,1071.9 820.0,1067.5 C823.1,1063.1 828.3,1053.3 830.0,1050.5" stroke-width="0.95" fill="none" />
<path d="M766.2,1102.5 C767.3,1103.2 770.0,1106.0 772.5,1107.0 C775.0,1108.0 778.4,1108.9 781.2,1108.8 C784.1,1108.6 786.8,1107.5 789.5,1106.0 C792.2,1104.5 794.7,1102.2 797.5,1099.5 C800.3,1096.8 802.1,1094.6 806.2,1090.0 C810.4,1085.4 818.2,1078.2 822.5,1072.0 C826.8,1065.8 830.4,1056.2 832.0,1053.0" stroke-width="0.85" fill="none" />
<ellipse cx="779.2" cy="1089.2" rx="6.4" ry="4.5" stroke-width="0.95" fill="none" transform="rotate(-15 779.2 1089.2)"/>
<ellipse cx="780.0" cy="1089.8" rx="4.4" ry="3.0" stroke-width="0.8" fill="none" transform="rotate(-15 780.0 1089.8)"/>
<path d="M763.0,970.5 C763.4,969.7 764.3,966.9 765.5,965.5 C766.7,964.1 768.2,962.8 770.0,962.0 C771.8,961.2 774.2,960.8 776.2,960.8 C778.2,960.8 780.2,960.8 782.0,962.0 C783.8,963.2 786.2,967.0 787.0,968.0" stroke-width="0.95" fill="none" />
<path d="M742.5,1078.0 C743.8,1080.6 747.5,1088.4 750.0,1093.8 C752.5,1099.1 755.8,1106.5 757.5,1110.0 C759.2,1113.5 759.3,1113.8 760.5,1115.0 C761.7,1116.2 761.7,1117.0 764.5,1117.5 C767.3,1118.0 770.8,1119.1 777.5,1118.0 C784.2,1116.9 795.8,1113.5 805.0,1111.0 C814.2,1108.5 826.2,1105.2 832.5,1103.0 C838.8,1100.8 839.8,1098.0 842.5,1097.5 C845.2,1097.0 847.4,1098.5 848.8,1100.0 C850.1,1101.5 850.6,1104.2 850.5,1106.2 C850.4,1108.3 849.3,1110.7 848.0,1112.5 C846.7,1114.3 843.4,1116.2 842.5,1117.0" stroke-width="0.95" fill="none" />
<path d="M759.5,1112.5 C762.1,1112.6 768.2,1113.9 775.0,1113.0 C781.8,1112.1 790.8,1109.2 800.0,1107.0 C809.2,1104.8 823.7,1101.5 830.0,1099.5 C836.3,1097.5 835.9,1096.6 838.0,1095.0 C840.1,1093.4 841.3,1092.5 842.5,1090.0 C843.7,1087.5 844.8,1083.8 845.0,1080.0 C845.2,1076.2 844.9,1073.7 843.8,1067.5 C842.6,1061.3 839.0,1047.1 838.0,1043.0" stroke-width="0.95" fill="none" />
<path d="M813.8,1076.2 C814.4,1077.9 816.0,1080.6 817.5,1086.2 C819.0,1091.9 821.7,1106.0 822.5,1110.0" stroke-width="0.85" fill="none" />
<path d="M825.0,1063.8 C825.8,1066.0 828.1,1072.5 830.0,1077.5 C831.9,1082.5 835.2,1091.0 836.2,1093.8" stroke-width="0.85" fill="none" stroke-dasharray="7 3" />
<path d="M833.0,1050.0 C833.8,1052.9 836.4,1061.5 838.0,1067.5 C839.6,1073.5 841.3,1081.5 842.5,1086.2 C843.7,1091.0 844.6,1094.6 845.0,1096.2" stroke-width="0.85" fill="none" />
<ellipse cx="842.5" cy="1072.5" rx="2.6" ry="9.5" stroke-width="0.85" fill="none" transform="rotate(-8 842.5 1072.5)"/>
<path d="M765.4,1123.9 C766.7,1125.2 770.2,1130.3 773.3,1131.8 C776.3,1133.3 780.5,1133.8 783.8,1133.1 C787.0,1132.5 789.9,1129.2 793.0,1127.9 C796.0,1126.6 800.6,1125.7 802.1,1125.2" stroke-width="1.3" fill="none" />
<path d="M769.3,1134.4 C770.9,1135.6 775.2,1140.4 778.5,1141.6 C781.8,1142.8 785.5,1142.6 789.0,1141.6 C792.5,1140.7 797.2,1137.8 799.5,1135.7 C801.8,1133.7 802.2,1130.3 802.8,1129.2" stroke-width="0.95" fill="none" />
<path d="M776.6,1143.6 C778.0,1144.7 781.9,1149.3 785.1,1150.2 C788.3,1151.0 792.3,1150.1 795.6,1148.9 C798.9,1147.7 802.6,1145.2 804.8,1143.0 C806.9,1140.7 807.8,1136.4 808.4,1135.1" stroke-width="0.95" fill="none" />
<path d="M781.1,1151.5 C782.5,1152.6 786.0,1157.3 789.0,1158.0 C792.1,1158.8 796.2,1157.6 799.5,1156.1 C802.8,1154.5 806.7,1151.4 808.7,1148.9 C810.7,1146.3 810.9,1142.3 811.3,1141.0" stroke-width="0.95" fill="none" />
<path d="M778.5,1141.6 L785.7,1150.4" stroke-width="0.85" fill="none" />
<path d="M789.0,1141.6 L796.2,1149.1" stroke-width="0.85" fill="none" />
<path d="M799.5,1135.7 L807.4,1151.5" stroke-width="0.85" fill="none" />
<path d="M785.7,1150.4 L789.7,1158.0" stroke-width="0.85" fill="none" />
<path d="M796.2,1149.1 L800.2,1156.1" stroke-width="0.85" fill="none" />
<path d="M811.3,1125.2 C812.6,1125.3 816.1,1125.7 819.2,1125.5 C822.2,1125.3 826.8,1125.1 829.7,1123.9 C832.5,1122.8 834.3,1120.4 836.2,1118.7 C838.2,1116.9 840.6,1114.3 841.5,1113.4" stroke-width="1.3" fill="none" />
<path d="M813.9,1130.5 C815.2,1131.8 818.7,1137.2 821.8,1138.4 C824.9,1139.6 828.8,1139.0 832.3,1137.7 C835.8,1136.4 840.6,1133.2 842.8,1130.5 C845.0,1127.8 845.0,1122.8 845.4,1121.3" stroke-width="0.95" fill="none" />
<path d="M820.5,1141.0 C821.8,1142.3 825.3,1147.9 828.4,1148.9 C831.4,1149.8 835.5,1148.4 838.9,1146.9 C842.2,1145.4 846.6,1142.4 848.7,1139.7 C850.8,1136.9 850.9,1132.0 851.3,1130.5" stroke-width="0.95" fill="none" />
<path d="M821.8,1138.4 L828.6,1148.9" stroke-width="0.85" fill="none" />
<path d="M832.3,1137.7 L839.1,1146.9" stroke-width="0.85" fill="none" />
<path d="M842.8,1130.5 L849.1,1139.4" stroke-width="0.85" fill="none" />
<path d="M796.9,1171.1 C798.0,1172.2 801.0,1176.9 803.4,1177.7 C805.8,1178.5 809.3,1177.0 811.3,1175.7 C813.3,1174.4 814.6,1170.8 815.2,1169.8" stroke-width="0.95" fill="none" />
<path d="M841.5,1165.9 C842.3,1166.7 844.8,1170.1 846.7,1170.5 C848.7,1170.9 851.4,1169.9 853.3,1168.5 C855.1,1167.1 857.1,1163.1 857.9,1162.0" stroke-width="0.95" fill="none" />
<path d="M841.5,1095.1 C842.6,1095.5 846.5,1096.4 848.0,1097.7 C849.6,1099.0 850.7,1101.0 850.7,1103.0 C850.7,1104.9 849.3,1107.8 848.0,1109.5 C846.7,1111.3 843.7,1112.8 842.8,1113.4" stroke-width="0.9" fill="none" />
<path d="M803.4,1125.2 C804.1,1126.3 806.1,1131.8 807.4,1131.8 C808.7,1131.8 810.7,1126.3 811.3,1125.2" stroke-width="0.9" fill="none" />
<path d="M790.0,1155.0 C790.8,1156.8 792.2,1160.1 794.7,1165.6 C797.2,1171.1 801.7,1180.5 805.2,1187.9 C808.7,1195.3 812.6,1203.9 815.7,1210.2 C818.8,1216.5 820.3,1220.5 823.6,1225.9 C826.9,1231.4 830.6,1237.2 835.4,1242.9 C840.2,1248.6 847.2,1253.9 852.5,1260.0 C857.8,1266.1 862.5,1272.3 866.9,1279.7 C871.3,1287.1 875.0,1296.9 878.7,1304.6 C882.4,1312.2 885.3,1317.5 889.2,1325.6 C893.1,1333.7 900.1,1348.5 902.3,1353.1" stroke-width="0.95" fill="none" stroke-dasharray="10 3.5" />
<path d="M808.0,1155.0 C808.7,1156.3 809.6,1158.0 812.0,1163.0 C814.4,1168.0 818.8,1178.0 822.3,1185.2 C825.8,1192.4 830.0,1200.5 832.8,1206.2 C835.6,1211.9 836.5,1214.9 839.3,1219.3 C842.1,1223.7 845.8,1227.9 849.8,1232.5 C853.8,1237.1 859.1,1242.5 863.0,1246.9 C866.9,1251.3 870.4,1254.6 873.4,1258.7 C876.4,1262.8 878.4,1266.8 881.3,1271.8 C884.1,1276.8 887.4,1282.8 890.5,1288.9 C893.6,1295.0 896.0,1300.4 899.7,1308.5 C903.4,1316.6 910.1,1331.6 912.8,1337.4 C915.5,1343.2 915.5,1342.3 916.1,1343.3" stroke-width="0.95" fill="none" stroke-dasharray="10 3.5" />
<path d="M823.0,1152.0 C823.8,1153.8 825.7,1157.7 828.0,1163.0 C830.3,1168.3 833.9,1177.4 836.7,1183.9 C839.5,1190.5 842.0,1197.0 844.6,1202.3 C847.2,1207.5 849.0,1209.9 852.5,1215.4 C856.0,1220.9 861.2,1229.2 865.6,1235.1 C870.0,1241.0 874.6,1244.7 878.7,1250.8 C882.9,1256.9 888.5,1268.3 890.5,1271.8" stroke-width="0.95" fill="none" stroke-dasharray="10 3.5" />
<path d="M836.0,1150.0 C837.2,1152.8 840.5,1161.1 843.0,1167.0 C845.5,1172.9 848.4,1179.5 851.1,1185.2 C853.8,1190.9 856.6,1195.5 859.0,1201.0 C861.4,1206.5 863.2,1212.1 865.6,1218.0 C868.0,1223.9 871.2,1231.4 873.4,1236.4 C875.6,1241.4 877.8,1246.2 878.7,1248.2" stroke-width="0.95" fill="none" stroke-dasharray="10 3.5" />
<path d="M850.0,1142.0 C851.3,1145.3 855.0,1155.0 858.0,1162.0 C861.0,1169.0 864.8,1176.8 868.2,1183.9 C871.7,1191.1 875.2,1197.2 878.7,1204.9 C882.2,1212.6 885.7,1221.7 889.2,1229.8 C892.7,1237.9 896.4,1246.4 899.7,1253.4 C903.0,1260.4 906.1,1265.9 908.9,1271.8 C911.7,1277.7 913.9,1282.6 916.7,1288.9 C919.5,1295.2 922.6,1302.8 925.9,1309.8 C929.2,1316.8 934.2,1326.4 936.4,1330.8 C938.6,1335.2 938.6,1335.2 939.0,1336.1" stroke-width="0.95" fill="none" stroke-dasharray="10 3.5" />
<path d="M856.0,1130.0 C857.0,1131.3 859.2,1133.0 862.0,1138.0 C864.8,1143.0 869.4,1152.3 873.0,1160.0 C876.6,1167.7 881.0,1177.5 883.9,1183.9 C886.8,1190.3 888.8,1192.9 890.5,1198.4 C892.2,1203.9 893.3,1210.6 894.4,1216.7 C895.5,1222.8 895.7,1228.1 897.0,1235.1 C898.3,1242.1 901.4,1254.8 902.3,1258.7" stroke-width="0.95" fill="none" stroke-dasharray="10 3.5" />
<path d="M881.3,1253.4 C883.0,1256.9 888.3,1267.0 891.8,1274.4 C895.3,1281.8 899.0,1290.8 902.3,1298.0 C905.6,1305.2 908.2,1310.9 911.5,1317.7 C914.8,1324.5 919.8,1334.0 922.0,1338.7 C924.2,1343.4 924.2,1344.7 924.6,1345.9" stroke-width="0.95" fill="none" stroke-dasharray="10 3.5" />
<path d="M816.5,1182.1 L815.0,1185.8" stroke-width="0.9" fill="none" />
<path d="M820.5,1191.3 L818.9,1195.0" stroke-width="0.9" fill="none" />
<path d="M824.4,1199.8 L822.8,1203.5" stroke-width="0.9" fill="none" />
<path d="M829.6,1209.6 L828.1,1213.3" stroke-width="0.9" fill="none" />
<path d="M863.7,1183.4 L862.2,1187.1" stroke-width="0.9" fill="none" />
<path d="M867.7,1192.6 L866.1,1196.3" stroke-width="0.9" fill="none" />
<path d="M871.6,1201.1 L870.0,1204.8" stroke-width="0.9" fill="none" />
<path d="M782.4,1134.9 L780.9,1138.6" stroke-width="0.9" fill="none" />
<path d="M786.4,1144.1 L784.8,1147.7" stroke-width="0.9" fill="none" />
<path d="M790.3,1152.6 L788.7,1156.3" stroke-width="0.9" fill="none" />
<path d="M794.9,1161.8 L793.3,1165.4" stroke-width="0.9" fill="none" />
<path d="M799.5,1171.0 L797.9,1174.6" stroke-width="0.9" fill="none" />
<path d="M831.6,1134.9 L830.0,1138.6" stroke-width="0.9" fill="none" />
<path d="M835.5,1144.1 L834.0,1147.7" stroke-width="0.9" fill="none" />
<path d="M840.1,1153.2 L838.6,1156.9" stroke-width="0.9" fill="none" />
<path d="M844.7,1162.4 L843.1,1166.1" stroke-width="0.9" fill="none" />
<path d="M858.5,1172.9 L856.9,1176.6" stroke-width="0.9" fill="none" />
<path d="M742.0,1080.0 L766.0,1117.5 L790.0,1155.0" stroke-width="0.85" fill="none" stroke-dasharray="7 3" />
<path d="M757.0,1078.0 L782.5,1116.5 L808.0,1155.0" stroke-width="0.85" fill="none" stroke-dasharray="7 3" />
<path d="M788.0,1088.0 L805.5,1120.0 L823.0,1152.0" stroke-width="0.85" fill="none" stroke-dasharray="7 3" />
<path d="M812.0,1078.0 L831.0,1110.0 L850.0,1142.0" stroke-width="0.85" fill="none" stroke-dasharray="7 3" />
<path d="M838.0,1070.0 L848.0,1099.0 L858.0,1128.0" stroke-width="0.85" fill="none" stroke-dasharray="7 3" />
<path d="M902.3,1353.1 C902.7,1352.3 903.3,1349.2 904.5,1348.5 C905.7,1347.8 908.0,1349.2 909.5,1349.0 C911.0,1348.8 912.4,1348.2 913.5,1347.2 C914.6,1346.2 915.7,1344.0 916.1,1343.3" stroke-width="0.9" fill="none" />
<path d="M924.6,1345.9 C925.1,1345.3 926.2,1342.8 927.5,1342.2 C928.8,1341.6 930.9,1342.7 932.5,1342.4 C934.1,1342.1 935.9,1341.2 937.0,1340.2 C938.1,1339.2 938.7,1336.8 939.0,1336.1" stroke-width="0.9" fill="none" />
<path d="M8.5,3 L6.5,0 L2.5,0 L0,4 L0,13 L2.5,17 L6.5,17 L8.5,14" transform="translate(934.7 725.2) scale(0.976 0.918)" stroke-width="1.6" vector-effect="non-scaling-stroke" fill="none" stroke-linejoin="miter" stroke-miterlimit="2" stroke-linecap="square"/>
<path d="M2,4.5 L6.5,4.5 L8.5,7 L8.5,14.5 L6.5,17 L2,17 L0,14.5 L0,7 Z" transform="translate(948.0 725.2) scale(0.810 0.918)" stroke-width="1.6" vector-effect="non-scaling-stroke" fill="none" stroke-linejoin="miter" stroke-miterlimit="2" stroke-linecap="square"/>
<path d="M0.3,4.5 L0.3,17 M0.3,7.5 L2.8,4.5 L6,4.5 L8,7 L8,17" transform="translate(960.9 725.2) scale(0.810 0.918)" stroke-width="1.6" vector-effect="non-scaling-stroke" fill="none" stroke-linejoin="miter" stroke-miterlimit="2" stroke-linecap="square"/>
<path d="M8,6.2 L6.5,4.5 L2,4.5 L0.5,6 L0.5,9.3 L2,10.6 L6.5,10.6 L8,12 L8,15.5 L6.5,17 L1.8,17 L0.2,15.3" transform="translate(973.8 725.2) scale(0.810 0.918)" stroke-width="1.6" vector-effect="non-scaling-stroke" fill="none" stroke-linejoin="miter" stroke-miterlimit="2" stroke-linecap="square"/>
<path d="M2,4.5 L6.5,4.5 L8.5,7 L8.5,14.5 L6.5,17 L2,17 L0,14.5 L0,7 Z" transform="translate(986.7 725.2) scale(0.810 0.918)" stroke-width="1.6" vector-effect="non-scaling-stroke" fill="none" stroke-linejoin="miter" stroke-miterlimit="2" stroke-linecap="square"/>
<path d="M4.2,0 L4.2,17" transform="translate(999.6 725.2) scale(0.810 0.918)" stroke-width="1.6" vector-effect="non-scaling-stroke" fill="none" stroke-linejoin="miter" stroke-miterlimit="2" stroke-linecap="square"/>
<path d="M0,11 L8.5,11 L8.5,7 L6.5,4.5 L2,4.5 L0,7 L0,14.5 L2,17 L6.5,17 L8.5,15.2" transform="translate(1012.5 725.2) scale(0.810 0.918)" stroke-width="1.6" vector-effect="non-scaling-stroke" fill="none" stroke-linejoin="miter" stroke-miterlimit="2" stroke-linecap="square"/>
<path d="M8.5,3 L6.5,0 L2.5,0 L0,4 L0,13 L2.5,17 L6.5,17 L8.5,14" transform="translate(1037.9 725.2) scale(0.976 0.918)" stroke-width="1.6" vector-effect="non-scaling-stroke" fill="none" stroke-linejoin="miter" stroke-miterlimit="2" stroke-linecap="square"/>
<path d="M2,4.5 L6.5,4.5 L8.5,7 L8.5,14.5 L6.5,17 L2,17 L0,14.5 L0,7 Z" transform="translate(1051.2 725.2) scale(0.810 0.918)" stroke-width="1.6" vector-effect="non-scaling-stroke" fill="none" stroke-linejoin="miter" stroke-miterlimit="2" stroke-linecap="square"/>
<path d="M0,4.5 L4.25,17 L8.5,4.5" transform="translate(1064.1 725.2) scale(0.810 0.918)" stroke-width="1.6" vector-effect="non-scaling-stroke" fill="none" stroke-linejoin="miter" stroke-miterlimit="2" stroke-linecap="square"/>
<path d="M0,11 L8.5,11 L8.5,7 L6.5,4.5 L2,4.5 L0,7 L0,14.5 L2,17 L6.5,17 L8.5,15.2" transform="translate(1077.0 725.2) scale(0.810 0.918)" stroke-width="1.6" vector-effect="non-scaling-stroke" fill="none" stroke-linejoin="miter" stroke-miterlimit="2" stroke-linecap="square"/>
<path d="M1.2,4.5 L1.2,17 M1.2,8.2 L3.6,5.2 L6,4.5 L8,5.6" transform="translate(1089.9 725.2) scale(0.810 0.918)" stroke-width="1.6" vector-effect="non-scaling-stroke" fill="none" stroke-linejoin="miter" stroke-miterlimit="2" stroke-linecap="square"/>
<path d="M0.5,0 L0.5,17 L8.5,17" transform="translate(1115.3 725.2) scale(0.976 0.918)" stroke-width="1.6" vector-effect="non-scaling-stroke" fill="none" stroke-linejoin="miter" stroke-miterlimit="2" stroke-linecap="square"/>
<rect x="1125.6" y="738.9" width="2.3" height="2.5" fill="#000" stroke="none"/>
<path d="M0.5,0 L0.5,17 M8,0 L8,17 M0.5,8.5 L8,8.5" transform="translate(1141.1 725.2) scale(0.976 0.918)" stroke-width="1.6" vector-effect="non-scaling-stroke" fill="none" stroke-linejoin="miter" stroke-miterlimit="2" stroke-linecap="square"/>
<rect x="1151.4" y="738.9" width="2.3" height="2.5" fill="#000" stroke="none"/>
<path d="M0.5,17 L0.5,0 L6.5,0 L8.5,2 L8.5,7 L6.5,9 L0.5,9" transform="translate(886.7 1096.8) scale(0.976 0.941)" stroke-width="1.6" vector-effect="non-scaling-stroke" fill="none" stroke-linejoin="miter" stroke-miterlimit="2" stroke-linecap="square"/>
<path d="M0.5,17 L0.5,0 L6.5,0 L8.5,2 L8.5,7 L6.5,9 L0.5,9" transform="translate(899.6 1096.8) scale(0.976 0.941)" stroke-width="1.6" vector-effect="non-scaling-stroke" fill="none" stroke-linejoin="miter" stroke-miterlimit="2" stroke-linecap="square"/>
<path d="M8.5,3 L6.5,0 L2.5,0 L0,4 L0,13 L2.5,17 L6.5,17 L8.5,14" transform="translate(912.4 1096.8) scale(0.976 0.941)" stroke-width="1.6" vector-effect="non-scaling-stroke" fill="none" stroke-linejoin="miter" stroke-miterlimit="2" stroke-linecap="square"/>
<path d="M0,0 L4.25,17 L8.5,0" transform="translate(938.2 1096.8) scale(0.976 0.941)" stroke-width="1.6" vector-effect="non-scaling-stroke" fill="none" stroke-linejoin="miter" stroke-miterlimit="2" stroke-linecap="square"/>
<path d="M0.5,6.5 L2.5,4.5 L6.5,4.5 L8.5,6.5 L8.5,17 M8.5,10.2 L2.5,10.2 L0.5,12.2 L0.5,15 L2.5,17 L6,17 L8.5,14.5" transform="translate(951.5 1096.8) scale(0.810 0.941)" stroke-width="1.6" vector-effect="non-scaling-stroke" fill="none" stroke-linejoin="miter" stroke-miterlimit="2" stroke-linecap="square"/>
<path d="M4.2,0 L4.2,17" transform="translate(964.3 1096.8) scale(0.810 0.941)" stroke-width="1.6" vector-effect="non-scaling-stroke" fill="none" stroke-linejoin="miter" stroke-miterlimit="2" stroke-linecap="square"/>
<path d="M0,4.5 L4.25,17 L8.5,4.5" transform="translate(977.2 1096.8) scale(0.810 0.941)" stroke-width="1.6" vector-effect="non-scaling-stroke" fill="none" stroke-linejoin="miter" stroke-miterlimit="2" stroke-linecap="square"/>
<path d="M0,11 L8.5,11 L8.5,7 L6.5,4.5 L2,4.5 L0,7 L0,14.5 L2,17 L6.5,17 L8.5,15.2" transform="translate(990.1 1096.8) scale(0.810 0.941)" stroke-width="1.6" vector-effect="non-scaling-stroke" fill="none" stroke-linejoin="miter" stroke-miterlimit="2" stroke-linecap="square"/>
<path d="M0.5,0 L0.5,17 L8.5,17" transform="translate(1015.4 1096.8) scale(0.976 0.941)" stroke-width="1.6" vector-effect="non-scaling-stroke" fill="none" stroke-linejoin="miter" stroke-miterlimit="2" stroke-linecap="square"/>
<rect x="1025.7" y="1109.1" width="2.3" height="2.5" fill="#000" stroke="none"/>
<path d="M0.5,0 L0.5,17 M8,0 L8,17 M0.5,8.5 L8,8.5" transform="translate(1041.1 1096.8) scale(0.976 0.941)" stroke-width="1.6" vector-effect="non-scaling-stroke" fill="none" stroke-linejoin="miter" stroke-miterlimit="2" stroke-linecap="square"/>
<rect x="1051.4" y="1109.1" width="2.3" height="2.5" fill="#000" stroke="none"/>
<path d="M0,5.5 L2.9,0.2 L10.1,0.2 L14.3,4.6 L14.3,24 M14.3,10.1 L5,10.1 L0.6,14.3 L0.6,22.5 L2.1,24 L16.4,24 M10.1,22.2 L13.6,18.2" transform="translate(465.5 232.9)" stroke-width="2.6" fill="none" stroke-linejoin="miter" stroke-linecap="butt"/>
<path d="M0,5.5 L2.9,0.2 L10.1,0.2 L14.3,4.6 L14.3,24 M14.3,10.1 L5,10.1 L0.6,14.3 L0.6,22.5 L2.1,24 L16.4,24 M10.1,22.2 L13.6,18.2" transform="translate(474.3 1283.8)" stroke-width="2.6" fill="none" stroke-linejoin="miter" stroke-linecap="butt"/>
</g>
</svg>
</body></html>
